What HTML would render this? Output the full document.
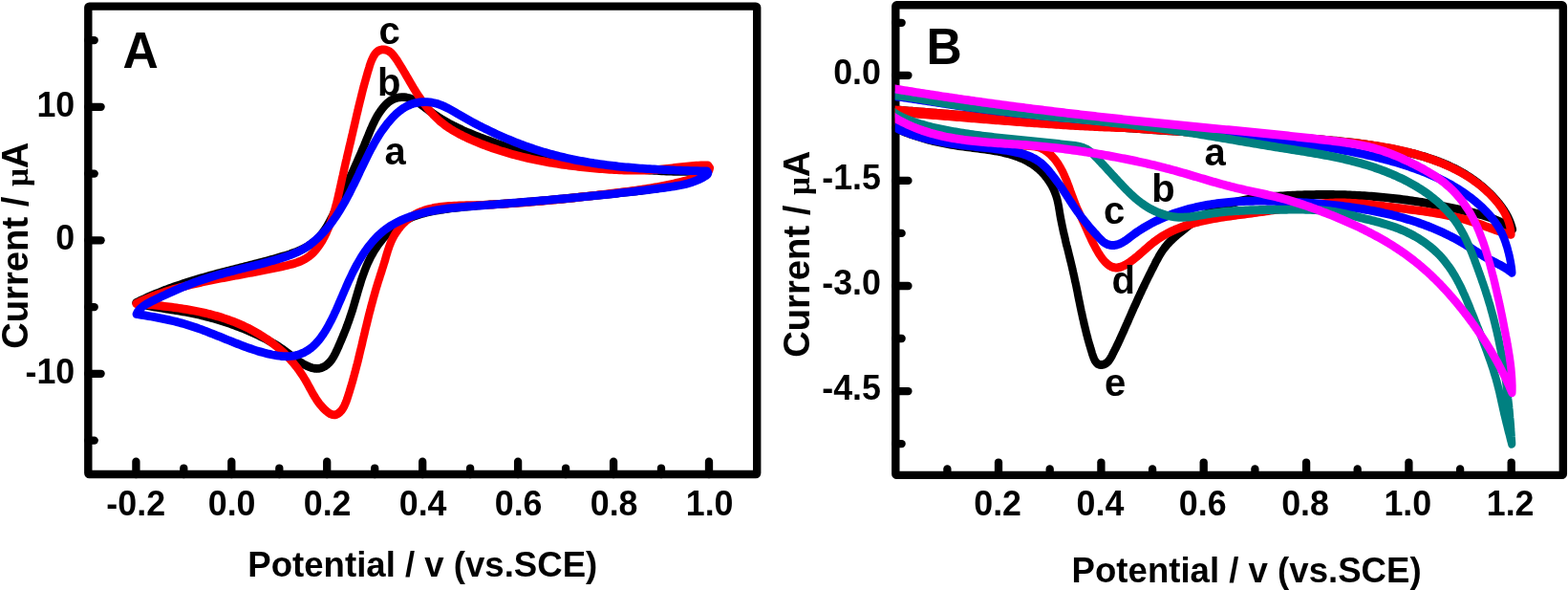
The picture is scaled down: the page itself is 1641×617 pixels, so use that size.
<!DOCTYPE html>
<html lang="en">
<head>
<meta charset="utf-8">
<title>Cyclic voltammograms</title>
<style>
html,body{margin:0;padding:0;background:#fff;}
body{width:1641px;height:617px;overflow:hidden;}
svg{display:block;}
text{font-family:"Liberation Sans", Arial, Helvetica, sans-serif;font-weight:bold;fill:#000;}
.tl{font-size:35.8px;}
.al{font-size:36.6px;}
.pl{font-size:51.6px;}
.cl{font-size:40px;}
.mu{font-family:"Liberation Serif","DejaVu Serif",serif;font-weight:bold;font-size:33.3px;}
</style>
</head>
<body>
<svg width="1641" height="617" viewBox="0 0 1641 617">
<defs><clipPath id="cb"><rect x="936.7" y="0" width="710" height="600"/></clipPath></defs>
<rect x="0" y="0" width="1641" height="617" fill="#fff"/>

<g fill="none" stroke="#000" stroke-width="8.4" stroke-linejoin="round">
<rect x="92.3" y="6.65" width="699.9" height="489.4" rx="1.2"/>
<rect x="937.3" y="5.25" width="698.55" height="491.65" rx="1.2"/>
</g>
<g stroke="#000" stroke-width="8.3" stroke-linecap="round">
<line x1="92.3" y1="460.6" x2="98.75" y2="460.6"/>
<line x1="92.3" y1="390.8" x2="105.60" y2="390.8"/>
<line x1="92.3" y1="321.1" x2="98.75" y2="321.1"/>
<line x1="92.3" y1="251.3" x2="105.60" y2="251.3"/>
<line x1="92.3" y1="181.6" x2="98.75" y2="181.6"/>
<line x1="92.3" y1="111.8" x2="105.60" y2="111.8"/>
<line x1="92.3" y1="42.1" x2="98.75" y2="42.1"/>
<line x1="142.4" y1="496.05" x2="142.4" y2="482.75"/>
<line x1="192.3" y1="496.05" x2="192.3" y2="489.55"/>
<line x1="242.3" y1="496.05" x2="242.3" y2="482.75"/>
<line x1="292.3" y1="496.05" x2="292.3" y2="489.55"/>
<line x1="342.2" y1="496.05" x2="342.2" y2="482.75"/>
<line x1="392.2" y1="496.05" x2="392.2" y2="489.55"/>
<line x1="442.2" y1="496.05" x2="442.2" y2="482.75"/>
<line x1="492.1" y1="496.05" x2="492.1" y2="489.55"/>
<line x1="542.1" y1="496.05" x2="542.1" y2="482.75"/>
<line x1="592.1" y1="496.05" x2="592.1" y2="489.55"/>
<line x1="642.1" y1="496.05" x2="642.1" y2="482.75"/>
<line x1="692.0" y1="496.05" x2="692.0" y2="489.55"/>
<line x1="742.0" y1="496.05" x2="742.0" y2="482.75"/>
<line x1="937.3" y1="23.8" x2="943.65" y2="23.8"/>
<line x1="937.3" y1="78.8" x2="950.45" y2="78.8"/>
<line x1="937.3" y1="133.8" x2="943.65" y2="133.8"/>
<line x1="937.3" y1="188.9" x2="950.45" y2="188.9"/>
<line x1="937.3" y1="243.9" x2="943.65" y2="243.9"/>
<line x1="937.3" y1="299.0" x2="950.45" y2="299.0"/>
<line x1="937.3" y1="354.0" x2="943.65" y2="354.0"/>
<line x1="937.3" y1="409.1" x2="950.45" y2="409.1"/>
<line x1="937.3" y1="464.1" x2="943.65" y2="464.1"/>
<line x1="991.4" y1="496.9" x2="991.4" y2="490.45"/>
<line x1="1045.0" y1="496.9" x2="1045.0" y2="483.55"/>
<line x1="1098.7" y1="496.9" x2="1098.7" y2="490.45"/>
<line x1="1152.4" y1="496.9" x2="1152.4" y2="483.55"/>
<line x1="1206.1" y1="496.9" x2="1206.1" y2="490.45"/>
<line x1="1259.7" y1="496.9" x2="1259.7" y2="483.55"/>
<line x1="1313.4" y1="496.9" x2="1313.4" y2="490.45"/>
<line x1="1367.1" y1="496.9" x2="1367.1" y2="483.55"/>
<line x1="1420.7" y1="496.9" x2="1420.7" y2="490.45"/>
<line x1="1474.4" y1="496.9" x2="1474.4" y2="483.55"/>
<line x1="1528.1" y1="496.9" x2="1528.1" y2="490.45"/>
<line x1="1581.7" y1="496.9" x2="1581.7" y2="483.55"/>
</g>
<g fill="none" stroke-linecap="round" stroke-linejoin="round">
<polyline transform="scale(1 1.05)" points="142.5,301.43 144.8,300.38 147.0,299.34 149.3,298.33 151.6,297.33 153.9,296.35 156.2,295.38 158.5,294.43 160.8,293.50 163.1,292.58 165.4,291.68 167.8,290.79 170.1,289.91 172.4,289.05 174.8,288.21 177.1,287.38 179.5,286.56 181.9,285.75 184.2,284.96 186.6,284.18 189.0,283.41 191.4,282.66 193.8,281.91 196.1,281.18 198.5,280.45 200.9,279.74 203.4,279.04 205.8,278.35 208.2,277.66 210.6,276.99 213.0,276.32 215.4,275.67 217.9,275.02 220.3,274.38 222.7,273.75 225.2,273.12 227.6,272.50 230.0,271.89 232.5,271.28 234.9,270.68 237.4,270.08 239.8,269.49 242.2,268.89 244.7,268.30 247.1,267.72 249.6,267.13 252.0,266.54 254.5,265.95 256.9,265.37 259.4,264.78 261.8,264.19 264.3,263.59 266.7,263.00 269.1,262.39 271.6,261.79 274.0,261.18 276.5,260.56 278.9,259.94 281.3,259.31 283.8,258.67 286.2,258.02 288.6,257.37 291.0,256.70 293.4,256.03 295.9,255.34 298.3,254.64 300.7,253.93 303.1,253.19 305.4,252.42 307.8,251.61 310.1,250.77 312.4,249.87 314.7,248.93 316.9,247.93 319.1,246.87 321.2,245.74 323.3,244.53 325.3,243.25 327.3,241.88 329.2,240.43 331.1,238.87 332.9,237.22 334.6,235.46 336.2,233.59 337.8,231.64 339.3,229.61 340.8,227.52 342.2,225.37 343.5,223.19 344.8,220.99 346.0,218.78 347.2,216.58 348.4,214.38 349.5,212.19 350.6,210.01 351.7,207.83 352.7,205.66 353.8,203.50 354.8,201.34 355.8,199.18 356.8,197.03 357.8,194.88 358.8,192.74 359.8,190.59 360.8,188.45 361.8,186.31 362.9,184.16 363.9,182.02 364.9,179.88 365.9,177.73 366.9,175.58 368.0,173.43 369.0,171.28 370.0,169.12 371.0,166.96 372.0,164.79 373.1,162.62 374.1,160.44 375.1,158.25 376.1,156.06 377.1,153.86 378.1,151.65 379.1,149.43 380.1,147.20 381.1,144.96 382.1,142.71 383.0,140.45 384.0,138.18 385.0,135.90 386.0,133.62 386.9,131.34 387.9,129.07 389.0,126.82 390.0,124.58 391.1,122.36 392.2,120.18 393.4,118.03 394.6,115.93 395.9,113.87 397.3,111.86 398.7,109.91 400.2,108.02 401.8,106.21 403.5,104.47 405.2,102.83 407.1,101.33 409.1,100.00 411.2,98.89 413.4,98.01 415.7,97.38 418.1,96.97 420.5,96.80 422.9,96.85 425.3,97.12 427.7,97.62 430.0,98.34 432.3,99.25 434.5,100.33 436.7,101.55 438.8,102.89 441.0,104.32 443.1,105.81 445.1,107.33 447.2,108.86 449.3,110.37 451.4,111.83 453.6,113.26 455.7,114.65 457.8,116.00 460.0,117.32 462.1,118.59 464.3,119.84 466.5,121.05 468.7,122.23 470.9,123.38 473.1,124.50 475.3,125.59 477.6,126.66 479.8,127.70 482.1,128.72 484.3,129.71 486.6,130.68 488.9,131.63 491.2,132.56 493.5,133.48 495.8,134.37 498.1,135.25 500.4,136.12 502.7,136.97 505.0,137.82 507.4,138.65 509.7,139.47 512.1,140.28 514.4,141.09 516.8,141.89 519.1,142.68 521.5,143.47 523.9,144.26 526.3,145.03 528.6,145.80 531.0,146.56 533.4,147.31 535.8,148.05 538.2,148.78 540.6,149.50 543.0,150.20 545.5,150.89 547.9,151.57 550.3,152.23 552.7,152.87 555.2,153.50 557.6,154.11 560.0,154.70 562.5,155.27 564.9,155.81 567.4,156.34 569.8,156.85 572.3,157.33 574.7,157.80 577.2,158.25 579.6,158.68 582.1,159.09 584.6,159.49 587.1,159.88 589.5,160.25 592.0,160.60 594.5,160.95 597.0,161.28 599.5,161.61 602.0,161.92 604.4,162.23 606.9,162.53 609.4,162.82 611.9,163.11 614.4,163.39 616.9,163.67 619.4,163.95 621.9,164.22 624.4,164.49 626.9,164.76 629.5,165.03 632.0,165.30 634.5,165.56 637.0,165.82 639.5,166.08 642.0,166.33 644.5,166.58 647.0,166.83 649.6,167.07 652.1,167.31 654.6,167.54 657.1,167.77 659.6,167.99 662.2,168.20 664.7,168.41 667.2,168.61 669.7,168.81 672.2,169.00 674.8,169.18 677.3,169.36 679.8,169.52 682.3,169.68 684.8,169.83 687.4,169.97 689.9,170.11 692.4,170.23 694.9,170.34 697.4,170.45 699.9,170.54 702.5,170.63 705.0,170.70 707.5,170.77 710.0,170.82 712.5,170.86 715.0,170.89 717.5,170.90 720.0,170.91 722.5,170.90 725.0,170.88 727.5,170.85 730.0,170.80 732.5,170.74 735.0,170.67 737.5,170.58 740.0,170.48 740.0,170.48 740.8,172.35 739.3,173.90 737.4,175.17 735.2,176.23 732.8,177.13 730.3,177.95 727.9,178.72 725.4,179.46 722.9,180.17 720.4,180.85 718.0,181.50 715.5,182.12 713.0,182.72 710.5,183.29 708.1,183.84 705.6,184.36 703.1,184.86 700.7,185.34 698.2,185.80 695.7,186.24 693.2,186.66 690.8,187.06 688.3,187.45 685.8,187.82 683.4,188.17 680.9,188.51 678.4,188.84 676.0,189.16 673.5,189.46 671.0,189.76 668.5,190.04 666.1,190.32 663.6,190.59 661.1,190.85 658.6,191.11 656.2,191.37 653.7,191.62 651.2,191.87 648.7,192.12 646.2,192.37 643.7,192.62 641.3,192.87 638.8,193.12 636.3,193.37 633.8,193.62 631.3,193.88 628.8,194.13 626.3,194.39 623.8,194.64 621.3,194.89 618.8,195.15 616.3,195.40 613.8,195.65 611.3,195.90 608.8,196.15 606.3,196.40 603.8,196.65 601.2,196.90 598.7,197.14 596.2,197.39 593.7,197.63 591.2,197.87 588.7,198.11 586.2,198.34 583.7,198.57 581.1,198.80 578.6,199.03 576.1,199.26 573.6,199.48 571.1,199.70 568.6,199.91 566.0,200.12 563.5,200.33 561.0,200.53 558.5,200.73 556.0,200.93 553.5,201.12 550.9,201.30 548.4,201.48 545.9,201.66 543.4,201.83 540.9,202.00 538.4,202.17 535.8,202.33 533.3,202.49 530.8,202.65 528.3,202.80 525.8,202.96 523.3,203.12 520.8,203.28 518.2,203.44 515.7,203.60 513.2,203.76 510.7,203.93 508.2,204.10 505.7,204.28 503.2,204.46 500.7,204.65 498.2,204.85 495.7,205.05 493.2,205.26 490.7,205.47 488.2,205.70 485.7,205.93 483.2,206.18 480.7,206.44 478.2,206.70 475.7,206.98 473.2,207.27 470.8,207.58 468.3,207.90 465.8,208.23 463.3,208.58 460.8,208.94 458.4,209.33 455.9,209.74 453.4,210.18 451.0,210.65 448.6,211.16 446.1,211.70 443.7,212.28 441.4,212.91 439.0,213.58 436.6,214.31 434.3,215.09 432.0,215.92 429.7,216.82 427.5,217.78 425.3,218.80 423.1,219.90 420.9,221.07 418.8,222.31 416.7,223.64 414.7,225.04 412.7,226.52 410.7,228.07 408.8,229.69 406.9,231.37 405.1,233.11 403.3,234.91 401.6,236.75 399.9,238.64 398.3,240.58 396.7,242.55 395.2,244.55 393.8,246.59 392.4,248.65 391.0,250.73 389.8,252.83 388.6,254.95 387.4,257.09 386.3,259.24 385.2,261.41 384.2,263.59 383.2,265.79 382.3,267.99 381.4,270.21 380.6,272.44 379.7,274.68 378.9,276.93 378.1,279.19 377.4,281.45 376.7,283.72 375.9,285.99 375.2,288.27 374.5,290.55 373.8,292.83 373.1,295.11 372.4,297.39 371.7,299.67 371.0,301.95 370.3,304.23 369.6,306.50 368.9,308.76 368.1,311.03 367.3,313.28 366.5,315.53 365.7,317.78 364.9,320.03 364.0,322.27 363.2,324.51 362.3,326.75 361.4,328.99 360.4,331.23 359.5,333.47 358.5,335.71 357.5,337.96 356.5,340.21 355.5,342.46 354.5,344.72 353.4,346.98 352.3,349.24 351.2,351.48 350.0,353.66 348.8,355.77 347.4,357.77 345.9,359.66 344.3,361.40 342.6,362.96 340.7,364.33 338.6,365.48 336.4,366.36 334.0,366.93 331.6,367.12 329.1,366.92 326.6,366.40 324.2,365.62 321.8,364.66 319.4,363.58 317.2,362.40 315.0,361.14 312.8,359.81 310.7,358.43 308.7,357.00 306.7,355.55 304.6,354.09 302.6,352.62 300.6,351.17 298.6,349.75 296.6,348.36 294.5,347.01 292.4,345.69 290.3,344.40 288.2,343.15 286.1,341.92 283.9,340.72 281.7,339.55 279.6,338.40 277.4,337.29 275.2,336.19 272.9,335.13 270.7,334.08 268.4,333.06 266.2,332.06 263.9,331.08 261.6,330.12 259.3,329.18 257.0,328.26 254.7,327.35 252.3,326.47 250.0,325.60 247.6,324.74 245.3,323.91 242.9,323.10 240.5,322.30 238.1,321.52 235.7,320.76 233.3,320.02 230.9,319.29 228.5,318.59 226.0,317.90 223.6,317.23 221.2,316.59 218.7,315.96 216.3,315.35 213.8,314.75 211.4,314.18 208.9,313.63 206.4,313.09 204.0,312.58 201.5,312.09 199.0,311.61 196.5,311.16 194.1,310.72 191.6,310.30 189.1,309.89 186.6,309.50 184.2,309.12 181.7,308.74 179.2,308.37 176.7,308.01 174.3,307.64 171.8,307.27 169.3,306.90 166.9,306.52 164.4,306.14 162.0,305.74 159.5,305.33 157.1,304.91 154.6,304.46 152.2,304.00 149.7,303.52 147.3,302.99 144.9,302.32 142.5,301.43" stroke="#000000" stroke-width="8.4"/>
<polyline transform="scale(1 1.05)" points="142.5,302.38 144.8,301.34 147.0,300.32 149.3,299.33 151.6,298.37 153.9,297.43 156.3,296.52 158.6,295.63 160.9,294.76 163.3,293.92 165.6,293.10 168.0,292.31 170.4,291.53 172.8,290.78 175.2,290.04 177.6,289.33 180.0,288.63 182.4,287.95 184.8,287.29 187.2,286.64 189.7,286.01 192.1,285.40 194.5,284.80 197.0,284.22 199.4,283.65 201.9,283.09 204.4,282.54 206.8,282.01 209.3,281.49 211.7,280.97 214.2,280.47 216.7,279.98 219.1,279.49 221.6,279.01 224.1,278.54 226.5,278.08 229.0,277.62 231.5,277.17 233.9,276.72 236.4,276.28 238.9,275.84 241.3,275.40 243.8,274.96 246.2,274.53 248.7,274.10 251.1,273.66 253.6,273.23 256.0,272.80 258.5,272.36 260.9,271.92 263.4,271.48 265.8,271.04 268.3,270.60 270.7,270.15 273.2,269.69 275.6,269.23 278.1,268.77 280.6,268.30 283.1,267.82 285.6,267.34 288.1,266.84 290.6,266.34 293.1,265.83 295.6,265.32 298.2,264.79 300.7,264.23 303.2,263.64 305.8,263.01 308.2,262.32 310.7,261.57 313.0,260.73 315.4,259.81 317.6,258.78 319.7,257.65 321.8,256.39 323.8,255.02 325.7,253.55 327.5,251.97 329.2,250.30 330.8,248.54 332.3,246.70 333.8,244.80 335.2,242.82 336.6,240.79 337.9,238.71 339.1,236.59 340.2,234.43 341.4,232.24 342.4,230.03 343.4,227.80 344.4,225.57 345.3,223.33 346.2,221.07 347.0,218.81 347.8,216.55 348.6,214.27 349.4,211.99 350.1,209.70 350.8,207.40 351.4,205.10 352.1,202.79 352.7,200.48 353.3,198.16 353.9,195.84 354.4,193.52 355.0,191.18 355.5,188.85 356.1,186.51 356.6,184.17 357.2,181.83 357.7,179.48 358.2,177.14 358.8,174.79 359.3,172.44 359.9,170.09 360.4,167.73 361.0,165.38 361.5,163.03 362.1,160.68 362.7,158.33 363.2,155.98 363.8,153.63 364.4,151.29 365.0,148.94 365.5,146.60 366.1,144.26 366.7,141.93 367.3,139.60 367.8,137.27 368.4,134.95 369.0,132.63 369.5,130.31 370.1,128.00 370.7,125.70 371.2,123.40 371.8,121.10 372.3,118.81 372.9,116.51 373.4,114.22 374.0,111.93 374.6,109.64 375.1,107.34 375.7,105.05 376.3,102.75 376.9,100.45 377.5,98.14 378.1,95.83 378.7,93.51 379.3,91.19 379.9,88.86 380.6,86.52 381.2,84.18 381.9,81.82 382.6,79.46 383.3,77.09 384.0,74.70 384.7,72.30 385.5,69.89 386.3,67.47 387.0,65.05 387.9,62.65 388.8,60.32 389.9,58.08 391.0,55.95 392.3,53.99 393.8,52.29 395.5,50.93 397.3,49.98 399.4,49.45 401.5,49.33 403.6,49.62 405.7,50.32 407.8,51.42 409.7,52.90 411.4,54.70 413.1,56.71 414.7,58.86 416.2,61.05 417.6,63.21 419.0,65.35 420.4,67.47 421.7,69.57 423.0,71.66 424.3,73.72 425.5,75.77 426.8,77.81 428.0,79.84 429.2,81.87 430.5,83.89 431.7,85.90 433.0,87.92 434.3,89.94 435.6,91.95 437.0,93.96 438.4,95.96 439.8,97.95 441.2,99.92 442.7,101.88 444.2,103.81 445.8,105.73 447.3,107.61 449.0,109.47 450.6,111.30 452.3,113.09 454.0,114.84 455.8,116.55 457.6,118.22 459.4,119.84 461.3,121.41 463.3,122.92 465.3,124.38 467.3,125.79 469.4,127.15 471.5,128.46 473.6,129.72 475.8,130.94 478.0,132.12 480.2,133.26 482.5,134.37 484.7,135.45 487.0,136.49 489.3,137.51 491.6,138.51 493.9,139.48 496.2,140.43 498.6,141.36 500.9,142.27 503.2,143.17 505.6,144.04 507.9,144.89 510.3,145.73 512.6,146.54 515.0,147.34 517.4,148.12 519.8,148.88 522.1,149.62 524.5,150.35 526.9,151.05 529.3,151.75 531.7,152.42 534.1,153.08 536.5,153.72 538.9,154.34 541.4,154.95 543.8,155.55 546.2,156.12 548.6,156.69 551.1,157.23 553.5,157.77 555.9,158.29 558.4,158.79 560.8,159.28 563.3,159.76 565.7,160.22 568.2,160.67 570.7,161.11 573.1,161.53 575.6,161.94 578.1,162.34 580.6,162.73 583.0,163.11 585.5,163.47 588.0,163.82 590.5,164.16 593.0,164.49 595.5,164.81 598.0,165.12 600.5,165.42 602.9,165.71 605.4,165.99 608.0,166.26 610.5,166.52 613.0,166.78 615.5,167.02 618.0,167.25 620.5,167.48 623.0,167.70 625.5,167.91 628.0,168.11 630.5,168.30 633.1,168.48 635.6,168.66 638.1,168.82 640.6,168.96 643.1,169.10 645.6,169.22 648.2,169.33 650.7,169.43 653.2,169.51 655.7,169.58 658.3,169.63 660.8,169.67 663.3,169.69 665.8,169.69 668.3,169.68 670.9,169.65 673.4,169.60 675.9,169.53 678.4,169.44 680.9,169.33 683.5,169.21 686.0,169.06 688.5,168.89 691.0,168.69 693.5,168.48 696.0,168.24 698.6,167.98 701.1,167.71 703.6,167.43 706.1,167.14 708.6,166.85 711.1,166.56 713.6,166.27 716.1,166.00 718.6,165.74 721.1,165.50 723.6,165.28 726.1,165.09 728.6,164.94 731.1,164.81 733.6,164.73 736.0,164.69 738.5,164.70 741.0,164.76 741.0,164.76 742.9,167.27 742.3,169.36 741.1,171.10 739.4,172.54 737.4,173.73 735.1,174.73 732.7,175.60 730.3,176.38 727.8,177.14 725.3,177.86 722.8,178.57 720.3,179.24 717.8,179.90 715.3,180.53 712.8,181.14 710.3,181.73 707.9,182.30 705.4,182.85 702.9,183.38 700.4,183.89 698.0,184.39 695.5,184.87 693.0,185.33 690.5,185.77 688.1,186.21 685.6,186.62 683.1,187.03 680.6,187.42 678.2,187.80 675.7,188.17 673.2,188.53 670.8,188.88 668.3,189.22 665.8,189.55 663.3,189.87 660.9,190.19 658.4,190.50 655.9,190.81 653.4,191.11 651.0,191.41 648.5,191.70 646.0,191.99 643.5,192.28 641.0,192.57 638.5,192.86 636.0,193.14 633.6,193.43 631.1,193.71 628.6,193.99 626.1,194.27 623.6,194.55 621.1,194.82 618.6,195.09 616.1,195.36 613.6,195.63 611.1,195.90 608.6,196.16 606.1,196.42 603.6,196.68 601.1,196.94 598.6,197.19 596.1,197.44 593.6,197.69 591.1,197.94 588.6,198.18 586.0,198.42 583.5,198.66 581.0,198.89 578.5,199.13 576.0,199.35 573.5,199.58 571.0,199.80 568.5,200.02 566.0,200.24 563.4,200.45 560.9,200.66 558.4,200.87 555.9,201.07 553.4,201.27 550.9,201.46 548.3,201.65 545.8,201.84 543.3,202.03 540.8,202.21 538.3,202.38 535.8,202.55 533.2,202.72 530.7,202.88 528.2,203.03 525.7,203.18 523.2,203.32 520.7,203.45 518.2,203.58 515.6,203.70 513.1,203.82 510.6,203.92 508.1,204.02 505.6,204.11 503.1,204.19 500.5,204.26 498.0,204.32 495.5,204.38 493.0,204.42 490.5,204.47 488.0,204.52 485.5,204.57 483.0,204.64 480.5,204.71 478.0,204.80 475.4,204.91 472.9,205.04 470.4,205.19 467.9,205.38 465.4,205.60 462.9,205.85 460.4,206.15 457.9,206.49 455.5,206.88 453.0,207.34 450.6,207.85 448.2,208.43 445.8,209.08 443.4,209.81 441.1,210.62 438.8,211.52 436.5,212.51 434.3,213.60 432.2,214.79 430.1,216.09 428.1,217.50 426.1,219.03 424.2,220.65 422.3,222.37 420.5,224.18 418.8,226.06 417.2,228.01 415.7,230.02 414.2,232.09 412.8,234.19 411.6,236.33 410.4,238.50 409.3,240.68 408.4,242.87 407.5,245.08 406.7,247.29 405.9,249.50 405.2,251.73 404.5,253.96 403.8,256.20 403.2,258.45 402.5,260.71 401.7,262.97 401.0,265.23 400.2,267.51 399.5,269.78 398.7,272.07 397.9,274.36 397.2,276.65 396.4,278.95 395.6,281.25 394.9,283.55 394.1,285.86 393.4,288.18 392.7,290.50 392.0,292.81 391.3,295.14 390.6,297.46 390.0,299.79 389.3,302.12 388.6,304.45 388.0,306.78 387.4,309.11 386.7,311.45 386.1,313.78 385.5,316.12 384.9,318.45 384.3,320.79 383.7,323.12 383.1,325.46 382.5,327.79 381.9,330.12 381.4,332.45 380.8,334.78 380.2,337.11 379.6,339.44 379.1,341.77 378.5,344.09 377.9,346.41 377.3,348.73 376.7,351.05 376.1,353.36 375.6,355.68 375.0,357.98 374.4,360.29 373.8,362.59 373.1,364.89 372.5,367.18 371.9,369.48 371.2,371.76 370.6,374.04 369.9,376.32 369.3,378.60 368.6,380.88 367.9,383.17 367.2,385.47 366.4,387.79 365.7,390.13 364.9,392.49 364.1,394.87 363.3,397.29 362.4,399.69 361.4,402.04 360.3,404.31 359.1,406.46 357.7,408.43 356.0,410.21 354.2,411.68 352.2,412.73 350.1,413.23 348.0,413.05 345.8,412.24 343.6,410.98 341.6,409.42 339.6,407.73 337.8,405.96 336.1,404.12 334.4,402.22 332.9,400.25 331.4,398.24 330.1,396.19 328.7,394.10 327.4,391.99 326.2,389.86 325.0,387.71 323.7,385.57 322.5,383.43 321.3,381.30 320.0,379.19 318.7,377.11 317.4,375.06 316.0,373.04 314.6,371.05 313.2,369.10 311.7,367.17 310.2,365.28 308.6,363.42 307.0,361.59 305.4,359.79 303.8,358.02 302.1,356.28 300.3,354.58 298.6,352.90 296.8,351.26 295.0,349.65 293.1,348.07 291.3,346.51 289.4,345.00 287.4,343.51 285.5,342.05 283.5,340.62 281.5,339.23 279.5,337.86 277.4,336.53 275.3,335.23 273.2,333.95 271.1,332.71 268.9,331.50 266.7,330.32 264.5,329.18 262.3,328.06 260.1,326.97 257.8,325.91 255.6,324.89 253.3,323.89 251.0,322.93 248.7,322.00 246.3,321.09 244.0,320.22 241.6,319.38 239.2,318.56 236.8,317.77 234.4,317.01 232.0,316.28 229.6,315.57 227.1,314.88 224.7,314.22 222.2,313.59 219.8,312.98 217.3,312.39 214.8,311.83 212.3,311.28 209.8,310.76 207.3,310.26 204.8,309.77 202.3,309.31 199.8,308.86 197.3,308.44 194.7,308.03 192.2,307.64 189.7,307.26 187.2,306.90 184.7,306.55 182.1,306.22 179.6,305.90 177.1,305.60 174.6,305.31 172.1,305.03 169.6,304.76 167.1,304.50 164.6,304.25 162.1,304.02 159.6,303.79 157.1,303.57 154.7,303.35 152.2,303.15 149.8,302.95 147.3,302.75 144.9,302.56 142.5,302.38" stroke="#ff0000" stroke-width="8.4"/>
<polyline transform="scale(1 1.05)" points="142.8,312.86 143.8,310.91 145.1,309.14 146.7,307.50 148.5,306.00 150.4,304.61 152.5,303.31 154.7,302.09 157.0,300.93 159.3,299.82 161.6,298.73 164.0,297.65 166.3,296.60 168.6,295.55 170.9,294.53 173.2,293.51 175.4,292.51 177.7,291.53 180.0,290.56 182.2,289.61 184.5,288.67 186.8,287.75 189.0,286.84 191.3,285.94 193.6,285.06 195.8,284.20 198.1,283.35 200.4,282.51 202.7,281.69 205.0,280.88 207.3,280.09 209.6,279.31 212.0,278.55 214.3,277.80 216.7,277.07 219.0,276.35 221.4,275.65 223.8,274.96 226.3,274.29 228.7,273.62 231.1,272.97 233.6,272.33 236.1,271.70 238.6,271.07 241.1,270.46 243.6,269.85 246.1,269.24 248.6,268.64 251.1,268.05 253.6,267.45 256.1,266.86 258.6,266.26 261.2,265.67 263.7,265.07 266.2,264.47 268.7,263.87 271.2,263.26 273.7,262.65 276.2,262.03 278.6,261.40 281.1,260.76 283.5,260.11 286.0,259.45 288.4,258.78 290.8,258.10 293.2,257.40 295.5,256.68 297.9,255.95 300.2,255.20 302.5,254.42 304.8,253.60 307.1,252.75 309.3,251.85 311.5,250.90 313.7,249.89 315.8,248.82 317.9,247.68 320.0,246.46 322.1,245.17 324.1,243.80 326.1,242.37 328.0,240.88 329.9,239.34 331.8,237.75 333.6,236.12 335.4,234.45 337.1,232.75 338.8,231.01 340.5,229.24 342.1,227.44 343.7,225.61 345.3,223.75 346.8,221.86 348.3,219.94 349.7,218.00 351.2,216.04 352.6,214.06 353.9,212.05 355.3,210.02 356.6,207.98 357.9,205.91 359.2,203.83 360.4,201.74 361.7,199.63 362.9,197.51 364.1,195.38 365.3,193.23 366.4,191.08 367.6,188.92 368.7,186.76 369.8,184.59 371.0,182.41 372.1,180.23 373.2,178.05 374.3,175.87 375.4,173.69 376.4,171.52 377.5,169.35 378.6,167.18 379.7,165.01 380.8,162.86 381.9,160.71 383.0,158.57 384.1,156.44 385.2,154.32 386.3,152.21 387.4,150.10 388.6,148.01 389.8,145.93 391.0,143.87 392.2,141.81 393.4,139.77 394.7,137.74 396.0,135.73 397.3,133.73 398.7,131.74 400.1,129.77 401.6,127.82 403.1,125.89 404.6,123.97 406.2,122.07 407.9,120.20 409.5,118.37 411.3,116.58 413.1,114.85 414.9,113.18 416.8,111.59 418.8,110.09 420.8,108.68 422.9,107.37 425.0,106.18 427.3,105.11 429.5,104.17 431.9,103.38 434.3,102.73 436.8,102.23 439.3,101.87 441.8,101.65 444.3,101.57 446.9,101.62 449.4,101.81 451.9,102.14 454.4,102.59 456.8,103.17 459.2,103.87 461.5,104.68 463.8,105.59 466.1,106.58 468.3,107.64 470.5,108.75 472.7,109.91 474.9,111.10 477.1,112.30 479.2,113.52 481.4,114.72 483.6,115.92 485.8,117.10 488.0,118.27 490.2,119.44 492.4,120.59 494.6,121.73 496.8,122.86 499.1,123.97 501.3,125.08 503.5,126.17 505.8,127.26 508.0,128.32 510.3,129.38 512.6,130.43 514.8,131.46 517.1,132.48 519.4,133.49 521.7,134.48 524.0,135.46 526.3,136.42 528.6,137.38 530.9,138.32 533.2,139.24 535.5,140.15 537.8,141.05 540.2,141.93 542.5,142.80 544.8,143.65 547.2,144.49 549.5,145.31 551.9,146.11 554.2,146.91 556.6,147.68 559.0,148.44 561.4,149.18 563.8,149.91 566.1,150.62 568.5,151.32 570.9,151.99 573.3,152.66 575.7,153.30 578.2,153.93 580.6,154.54 583.0,155.13 585.4,155.71 587.9,156.28 590.3,156.82 592.7,157.36 595.2,157.87 597.6,158.38 600.1,158.87 602.5,159.34 605.0,159.80 607.4,160.25 609.9,160.68 612.4,161.10 614.9,161.51 617.3,161.91 619.8,162.29 622.3,162.66 624.8,163.02 627.3,163.36 629.7,163.69 632.2,164.02 634.7,164.33 637.2,164.63 639.7,164.92 642.2,165.20 644.7,165.47 647.2,165.73 649.7,165.98 652.2,166.22 654.7,166.45 657.3,166.67 659.8,166.88 662.3,167.09 664.8,167.29 667.3,167.47 669.8,167.65 672.3,167.83 674.8,167.99 677.4,168.15 679.9,168.30 682.4,168.45 684.9,168.58 687.4,168.72 689.9,168.84 692.4,168.96 695.0,169.08 697.5,169.19 700.0,169.29 702.5,169.39 705.0,169.49 707.5,169.58 710.0,169.67 712.5,169.75 715.0,169.83 717.5,169.90 720.0,169.98 722.5,170.05 725.0,170.11 727.5,170.18 730.0,170.24 732.5,170.30 735.0,170.36 737.5,170.42 740.0,170.48 740.0,170.48 741.1,172.11 740.5,173.60 738.8,174.97 736.6,176.23 734.4,177.39 732.1,178.46 729.8,179.43 727.4,180.33 725.1,181.15 722.7,181.90 720.3,182.58 717.9,183.20 715.4,183.76 713.0,184.28 710.5,184.75 708.0,185.18 705.5,185.58 703.0,185.95 700.5,186.29 698.0,186.62 695.5,186.94 693.0,187.25 690.5,187.56 687.9,187.86 685.4,188.17 682.9,188.46 680.4,188.76 677.9,189.05 675.4,189.35 672.9,189.63 670.4,189.92 667.9,190.20 665.4,190.48 662.8,190.76 660.3,191.03 657.8,191.31 655.3,191.58 652.8,191.85 650.3,192.11 647.8,192.37 645.3,192.64 642.8,192.89 640.3,193.15 637.8,193.40 635.3,193.66 632.8,193.91 630.3,194.15 627.8,194.40 625.3,194.64 622.8,194.89 620.3,195.13 617.7,195.36 615.2,195.60 612.7,195.83 610.2,196.06 607.7,196.29 605.2,196.52 602.7,196.75 600.2,196.98 597.7,197.20 595.2,197.42 592.7,197.64 590.2,197.86 587.7,198.08 585.2,198.29 582.7,198.50 580.2,198.72 577.7,198.93 575.2,199.14 572.7,199.35 570.2,199.55 567.7,199.76 565.2,199.96 562.7,200.17 560.2,200.37 557.7,200.57 555.2,200.77 552.7,200.97 550.2,201.17 547.7,201.36 545.2,201.56 542.7,201.75 540.2,201.95 537.6,202.14 535.1,202.33 532.6,202.52 530.1,202.71 527.6,202.90 525.1,203.09 522.6,203.28 520.1,203.47 517.6,203.65 515.1,203.84 512.6,204.02 510.1,204.21 507.6,204.39 505.1,204.58 502.5,204.76 500.0,204.95 497.5,205.13 495.0,205.31 492.5,205.50 490.0,205.69 487.5,205.88 485.0,206.08 482.5,206.29 479.9,206.51 477.4,206.74 474.9,206.98 472.4,207.24 469.9,207.52 467.4,207.81 464.9,208.12 462.4,208.46 460.0,208.81 457.5,209.19 455.0,209.60 452.5,210.03 450.0,210.50 447.6,210.99 445.1,211.52 442.6,212.08 440.2,212.67 437.7,213.30 435.3,213.97 432.9,214.68 430.4,215.44 428.0,216.23 425.7,217.07 423.3,217.96 421.0,218.89 418.7,219.88 416.4,220.92 414.2,222.00 412.0,223.15 409.8,224.35 407.7,225.61 405.7,226.92 403.7,228.30 401.7,229.74 399.8,231.23 397.9,232.79 396.1,234.39 394.3,236.05 392.6,237.75 390.9,239.51 389.3,241.30 387.7,243.14 386.1,245.02 384.6,246.93 383.1,248.88 381.6,250.87 380.2,252.88 378.8,254.92 377.5,256.99 376.2,259.08 374.9,261.19 373.6,263.32 372.4,265.47 371.2,267.63 370.0,269.81 368.9,271.99 367.8,274.18 366.7,276.38 365.6,278.58 364.5,280.78 363.5,282.97 362.5,285.17 361.5,287.35 360.5,289.53 359.5,291.71 358.5,293.88 357.6,296.04 356.6,298.21 355.6,300.36 354.6,302.52 353.7,304.67 352.7,306.82 351.7,308.97 350.6,311.12 349.6,313.26 348.5,315.41 347.4,317.55 346.3,319.70 345.1,321.85 343.9,324.00 342.6,326.14 341.3,328.27 340.0,330.38 338.6,332.46 337.1,334.49 335.6,336.48 334.1,338.41 332.4,340.27 330.7,342.05 329.0,343.75 327.1,345.35 325.2,346.84 323.2,348.22 321.1,349.49 319.0,350.63 316.8,351.65 314.5,352.54 312.2,353.30 309.9,353.91 307.5,354.39 305.1,354.72 302.6,354.91 300.1,354.97 297.6,354.92 295.1,354.76 292.6,354.51 290.0,354.18 287.5,353.77 285.0,353.31 282.5,352.79 279.9,352.24 277.5,351.65 275.0,351.02 272.5,350.35 270.1,349.66 267.6,348.94 265.2,348.18 262.8,347.41 260.3,346.61 257.9,345.79 255.5,344.96 253.2,344.11 250.8,343.24 248.4,342.37 246.0,341.48 243.7,340.59 241.3,339.70 239.0,338.80 236.6,337.90 234.3,337.00 232.0,336.10 229.6,335.20 227.3,334.31 225.0,333.42 222.6,332.54 220.3,331.67 218.0,330.80 215.6,329.95 213.3,329.12 211.0,328.30 208.6,327.49 206.3,326.70 204.0,325.93 201.6,325.19 199.3,324.46 196.9,323.76 194.6,323.08 192.2,322.43 189.8,321.80 187.4,321.19 185.1,320.60 182.7,320.03 180.3,319.48 177.8,318.95 175.4,318.44 173.0,317.94 170.5,317.46 168.1,316.99 165.6,316.53 163.1,316.09 160.7,315.66 158.1,315.23 155.6,314.82 153.1,314.41 150.5,314.02 148.0,313.63 145.4,313.24 142.8,312.86" stroke="#0000ff" stroke-width="8.4"/>
<polyline transform="scale(1 1.09)" points="934.0,105.27 936.5,105.46 939.0,105.64 941.5,105.82 944.0,106.00 946.5,106.19 949.0,106.37 951.5,106.55 954.0,106.74 956.5,106.92 959.0,107.10 961.5,107.28 964.0,107.47 966.6,107.65 969.1,107.83 971.6,108.01 974.1,108.20 976.6,108.38 979.1,108.56 981.6,108.74 984.1,108.93 986.6,109.11 989.1,109.29 991.6,109.47 994.1,109.66 996.6,109.84 999.1,110.02 1001.6,110.20 1004.1,110.38 1006.7,110.57 1009.2,110.75 1011.7,110.93 1014.2,111.11 1016.7,111.29 1019.2,111.47 1021.7,111.65 1024.2,111.83 1026.7,112.02 1029.2,112.20 1031.7,112.38 1034.2,112.56 1036.7,112.74 1039.3,112.92 1041.8,113.10 1044.3,113.28 1046.8,113.46 1049.3,113.64 1051.8,113.82 1054.3,114.00 1056.8,114.18 1059.3,114.35 1061.8,114.53 1064.3,114.71 1066.9,114.89 1069.4,115.07 1071.9,115.25 1074.4,115.43 1076.9,115.60 1079.4,115.78 1081.9,115.96 1084.4,116.14 1086.9,116.31 1089.4,116.49 1092.0,116.67 1094.5,116.84 1097.0,117.02 1099.5,117.19 1102.0,117.37 1104.5,117.55 1107.0,117.72 1109.5,117.90 1112.0,118.07 1114.5,118.25 1117.1,118.42 1119.6,118.59 1122.1,118.77 1124.6,118.94 1127.1,119.12 1129.6,119.29 1132.1,119.46 1134.6,119.63 1137.1,119.81 1139.6,119.98 1142.2,120.15 1144.7,120.32 1147.2,120.49 1149.7,120.66 1152.2,120.83 1154.7,121.00 1157.2,121.17 1159.7,121.34 1162.2,121.51 1164.7,121.68 1167.3,121.84 1169.8,122.01 1172.3,122.18 1174.8,122.34 1177.3,122.51 1179.8,122.67 1182.3,122.84 1184.8,123.00 1187.3,123.16 1189.8,123.32 1192.4,123.48 1194.9,123.64 1197.4,123.80 1199.9,123.96 1202.4,124.12 1204.9,124.28 1207.4,124.44 1209.9,124.59 1212.4,124.75 1214.9,124.90 1217.5,125.06 1220.0,125.21 1222.5,125.36 1225.0,125.51 1227.5,125.66 1230.0,125.81 1232.5,125.96 1235.0,126.11 1237.5,126.25 1240.0,126.40 1242.5,126.54 1245.1,126.69 1247.6,126.83 1250.1,126.97 1252.6,127.11 1255.1,127.25 1257.6,127.39 1260.1,127.53 1262.6,127.66 1265.1,127.80 1267.6,127.93 1270.1,128.06 1272.6,128.20 1275.1,128.33 1277.7,128.46 1280.2,128.58 1282.7,128.71 1285.2,128.84 1287.7,128.96 1290.2,129.08 1292.7,129.20 1295.2,129.32 1297.7,129.44 1300.2,129.56 1302.7,129.68 1305.2,129.79 1307.7,129.91 1310.2,130.02 1312.7,130.13 1315.2,130.24 1317.7,130.36 1320.3,130.47 1322.8,130.58 1325.3,130.70 1327.8,130.81 1330.3,130.93 1332.8,131.04 1335.3,131.16 1337.8,131.28 1340.3,131.40 1342.8,131.52 1345.3,131.65 1347.8,131.78 1350.3,131.91 1352.8,132.04 1355.3,132.18 1357.8,132.32 1360.3,132.46 1362.8,132.61 1365.3,132.76 1367.8,132.92 1370.3,133.08 1372.8,133.24 1375.3,133.41 1377.8,133.58 1380.3,133.76 1382.8,133.95 1385.3,134.14 1387.8,134.34 1390.3,134.54 1392.8,134.75 1395.3,134.96 1397.8,135.18 1400.3,135.41 1402.8,135.65 1405.3,135.89 1407.8,136.14 1410.3,136.40 1412.8,136.67 1415.3,136.94 1417.8,137.23 1420.3,137.52 1422.8,137.82 1425.3,138.13 1427.8,138.45 1430.3,138.78 1432.8,139.11 1435.3,139.46 1437.8,139.82 1440.2,140.19 1442.7,140.57 1445.2,140.96 1447.7,141.36 1450.2,141.77 1452.7,142.19 1455.2,142.63 1457.7,143.07 1460.2,143.53 1462.7,144.00 1465.2,144.49 1467.7,144.99 1470.1,145.50 1472.6,146.02 1475.1,146.57 1477.6,147.13 1480.1,147.70 1482.5,148.30 1485.0,148.91 1487.4,149.54 1489.9,150.20 1492.3,150.87 1494.7,151.57 1497.1,152.28 1499.5,153.02 1501.9,153.79 1504.3,154.58 1506.7,155.39 1509.0,156.23 1511.3,157.10 1513.7,157.99 1516.0,158.92 1518.2,159.87 1520.5,160.85 1522.8,161.86 1525.0,162.90 1527.2,163.98 1529.4,165.08 1531.6,166.22 1533.7,167.40 1535.8,168.61 1537.9,169.85 1540.0,171.13 1542.1,172.45 1544.1,173.79 1546.1,175.17 1548.1,176.58 1550.0,178.02 1551.9,179.49 1553.8,180.99 1555.7,182.52 1557.5,184.08 1559.3,185.67 1561.0,187.28 1562.8,188.92 1564.5,190.58 1566.1,192.28 1567.7,194.00 1569.3,195.76 1570.8,197.55 1572.3,199.38 1573.7,201.25 1575.0,203.16 1576.3,205.11 1577.5,207.11 1578.6,209.16 1579.7,211.25 1580.6,213.40 1581.5,215.60 1582.3,217.86 1583.0,220.18 1583.0,220.18 1580.8,218.74 1578.7,217.39 1576.5,216.12 1574.2,214.92 1572.0,213.80 1569.8,212.75 1567.5,211.77 1565.2,210.84 1563.0,209.98 1560.7,209.17 1558.4,208.41 1556.0,207.69 1553.7,207.01 1551.4,206.37 1549.0,205.77 1546.6,205.19 1544.3,204.64 1541.9,204.11 1539.5,203.59 1537.1,203.09 1534.7,202.59 1532.3,202.10 1529.8,201.61 1527.4,201.13 1525.0,200.64 1522.5,200.17 1520.1,199.69 1517.6,199.22 1515.1,198.76 1512.7,198.30 1510.2,197.85 1507.7,197.40 1505.2,196.96 1502.7,196.53 1500.2,196.10 1497.8,195.69 1495.3,195.28 1492.8,194.88 1490.3,194.48 1487.8,194.10 1485.3,193.73 1482.8,193.37 1480.3,193.01 1477.8,192.67 1475.3,192.34 1472.8,192.02 1470.3,191.71 1467.8,191.41 1465.3,191.11 1462.8,190.83 1460.3,190.56 1457.8,190.30 1455.3,190.05 1452.8,189.80 1450.3,189.57 1447.8,189.35 1445.3,189.13 1442.8,188.93 1440.3,188.73 1437.8,188.55 1435.3,188.37 1432.8,188.20 1430.3,188.05 1427.8,187.90 1425.3,187.76 1422.8,187.63 1420.3,187.51 1417.8,187.39 1415.3,187.29 1412.8,187.19 1410.3,187.11 1407.8,187.03 1405.3,186.96 1402.8,186.90 1400.3,186.85 1397.8,186.81 1395.2,186.78 1392.7,186.75 1390.2,186.73 1387.7,186.73 1385.2,186.73 1382.7,186.73 1380.2,186.75 1377.7,186.77 1375.2,186.81 1372.7,186.85 1370.2,186.90 1367.7,186.95 1365.2,187.02 1362.7,187.09 1360.2,187.17 1357.7,187.26 1355.2,187.35 1352.7,187.46 1350.2,187.57 1347.7,187.69 1345.2,187.82 1342.7,187.95 1340.2,188.09 1337.7,188.24 1335.2,188.40 1332.7,188.56 1330.2,188.74 1327.7,188.93 1325.2,189.14 1322.7,189.36 1320.2,189.60 1317.7,189.86 1315.2,190.14 1312.7,190.44 1310.3,190.77 1307.8,191.12 1305.3,191.50 1302.9,191.91 1300.5,192.34 1298.0,192.81 1295.6,193.32 1293.2,193.85 1290.8,194.43 1288.4,195.04 1286.0,195.69 1283.7,196.39 1281.3,197.12 1279.0,197.91 1276.6,198.73 1274.3,199.61 1272.0,200.53 1269.8,201.50 1267.5,202.53 1265.3,203.61 1263.0,204.75 1260.8,205.93 1258.6,207.16 1256.5,208.43 1254.3,209.74 1252.2,211.08 1250.1,212.45 1248.0,213.83 1245.9,215.24 1243.9,216.65 1241.9,218.08 1239.9,219.50 1237.9,220.92 1236.0,222.35 1234.1,223.78 1232.2,225.22 1230.3,226.68 1228.5,228.16 1226.8,229.68 1225.0,231.23 1223.4,232.83 1221.7,234.48 1220.2,236.18 1218.6,237.95 1217.2,239.79 1215.8,241.69 1214.4,243.66 1213.1,245.68 1211.9,247.73 1210.6,249.81 1209.4,251.91 1208.3,254.01 1207.1,256.12 1205.9,258.21 1204.8,260.30 1203.7,262.37 1202.5,264.45 1201.4,266.51 1200.3,268.58 1199.2,270.64 1198.1,272.70 1197.1,274.75 1196.0,276.81 1194.9,278.86 1193.9,280.92 1192.8,282.97 1191.8,285.03 1190.7,287.09 1189.7,289.16 1188.7,291.23 1187.7,293.31 1186.6,295.39 1185.6,297.48 1184.6,299.57 1183.6,301.68 1182.6,303.78 1181.6,305.89 1180.6,308.01 1179.6,310.13 1178.5,312.25 1177.5,314.37 1176.5,316.49 1175.5,318.61 1174.4,320.73 1173.4,322.86 1172.3,324.98 1171.3,327.09 1170.2,329.21 1169.1,331.32 1168.0,333.42 1166.8,335.52 1165.7,337.62 1164.5,339.71 1163.4,341.79 1162.1,343.82 1160.8,345.72 1159.2,347.39 1157.3,348.72 1155.0,349.62 1152.6,350.01 1150.4,349.77 1148.6,348.94 1147.1,347.62 1145.8,345.89 1144.8,343.85 1143.9,341.62 1143.0,339.28 1142.3,336.94 1141.5,334.61 1140.8,332.30 1140.0,330.00 1139.3,327.72 1138.6,325.45 1138.0,323.18 1137.3,320.92 1136.7,318.66 1136.1,316.41 1135.5,314.16 1134.9,311.91 1134.3,309.66 1133.8,307.42 1133.2,305.18 1132.7,302.94 1132.2,300.70 1131.6,298.47 1131.1,296.23 1130.6,294.00 1130.1,291.77 1129.6,289.54 1129.1,287.31 1128.6,285.08 1128.1,282.85 1127.7,280.62 1127.2,278.39 1126.7,276.16 1126.2,273.92 1125.7,271.69 1125.1,269.46 1124.6,267.22 1124.1,264.99 1123.5,262.75 1123.0,260.51 1122.4,258.27 1121.9,256.03 1121.3,253.78 1120.7,251.53 1120.1,249.29 1119.5,247.04 1118.9,244.78 1118.3,242.53 1117.7,240.28 1117.1,238.03 1116.4,235.77 1115.8,233.52 1115.2,231.27 1114.7,229.01 1114.1,226.76 1113.5,224.51 1112.9,222.26 1112.4,220.01 1111.9,217.76 1111.4,215.52 1110.9,213.27 1110.4,211.03 1109.9,208.79 1109.5,206.55 1109.1,204.31 1108.7,202.08 1108.3,199.85 1107.9,197.62 1107.4,195.40 1106.9,193.18 1106.3,190.96 1105.6,188.75 1104.8,186.54 1103.9,184.34 1102.9,182.16 1101.8,180.01 1100.6,177.89 1099.3,175.81 1097.9,173.78 1096.4,171.81 1094.9,169.90 1093.3,168.07 1091.6,166.31 1089.9,164.65 1088.1,163.07 1086.3,161.57 1084.4,160.15 1082.5,158.81 1080.5,157.54 1078.5,156.35 1076.4,155.22 1074.3,154.16 1072.2,153.16 1070.0,152.22 1067.7,151.34 1065.5,150.51 1063.2,149.74 1060.9,149.02 1058.5,148.34 1056.1,147.71 1053.7,147.12 1051.3,146.57 1048.9,146.05 1046.4,145.57 1043.9,145.12 1041.4,144.69 1038.9,144.30 1036.4,143.92 1033.8,143.56 1031.3,143.23 1028.7,142.90 1026.2,142.59 1023.6,142.28 1021.0,141.99 1018.5,141.69 1015.9,141.40 1013.3,141.10 1010.8,140.80 1008.3,140.50 1005.7,140.18 1003.2,139.85 1000.7,139.51 998.2,139.14 995.7,138.77 993.3,138.37 990.8,137.96 988.4,137.53 985.9,137.08 983.5,136.61 981.1,136.12 978.7,135.61 976.3,135.08 973.9,134.53 971.5,133.96 969.2,133.37 966.8,132.75 964.5,132.11 962.1,131.45 959.7,130.77 957.4,130.06 955.1,129.33 952.7,128.57 950.4,127.78 948.0,126.98 945.7,126.14 943.4,125.28 941.0,124.39 938.7,123.48 936.3,122.53 934.0,121.56" stroke="#000000" stroke-width="8.25" clip-path="url(#cb)"/>
<polyline transform="scale(1 1.09)" points="934.0,105.27 936.5,105.45 939.0,105.63 941.5,105.81 944.0,105.99 946.5,106.17 949.0,106.35 951.5,106.53 954.0,106.71 956.5,106.89 959.0,107.07 961.5,107.25 964.0,107.43 966.5,107.61 969.0,107.79 971.5,107.98 974.0,108.16 976.5,108.34 979.0,108.52 981.5,108.70 984.0,108.89 986.5,109.07 989.0,109.25 991.5,109.43 994.0,109.62 996.5,109.80 999.0,109.98 1001.5,110.16 1004.0,110.35 1006.5,110.53 1009.0,110.71 1011.5,110.90 1014.0,111.08 1016.6,111.26 1019.1,111.45 1021.6,111.63 1024.1,111.81 1026.6,111.99 1029.1,112.18 1031.6,112.36 1034.1,112.54 1036.6,112.72 1039.1,112.91 1041.6,113.09 1044.1,113.27 1046.6,113.45 1049.1,113.64 1051.6,113.82 1054.1,114.00 1056.6,114.18 1059.1,114.36 1061.6,114.54 1064.2,114.72 1066.7,114.90 1069.2,115.08 1071.7,115.26 1074.2,115.44 1076.7,115.62 1079.2,115.80 1081.7,115.98 1084.2,116.16 1086.7,116.34 1089.2,116.52 1091.7,116.69 1094.2,116.87 1096.7,117.05 1099.3,117.23 1101.8,117.40 1104.3,117.58 1106.8,117.75 1109.3,117.93 1111.8,118.10 1114.3,118.28 1116.8,118.45 1119.3,118.63 1121.8,118.80 1124.3,118.97 1126.8,119.14 1129.3,119.31 1131.9,119.49 1134.4,119.66 1136.9,119.83 1139.4,120.00 1141.9,120.16 1144.4,120.33 1146.9,120.50 1149.4,120.67 1151.9,120.84 1154.4,121.00 1156.9,121.17 1159.4,121.33 1161.9,121.50 1164.5,121.66 1167.0,121.83 1169.5,121.99 1172.0,122.15 1174.5,122.31 1177.0,122.47 1179.5,122.64 1182.0,122.80 1184.5,122.96 1187.0,123.11 1189.5,123.27 1192.0,123.43 1194.5,123.59 1197.1,123.74 1199.6,123.90 1202.1,124.05 1204.6,124.21 1207.1,124.36 1209.6,124.52 1212.1,124.67 1214.6,124.82 1217.1,124.97 1219.6,125.12 1222.1,125.27 1224.6,125.42 1227.1,125.57 1229.6,125.71 1232.1,125.86 1234.7,126.01 1237.2,126.15 1239.7,126.30 1242.2,126.44 1244.7,126.58 1247.2,126.73 1249.7,126.87 1252.2,127.01 1254.7,127.15 1257.2,127.29 1259.7,127.43 1262.2,127.56 1264.7,127.70 1267.2,127.84 1269.7,127.97 1272.2,128.11 1274.7,128.24 1277.2,128.37 1279.7,128.50 1282.2,128.64 1284.8,128.77 1287.3,128.90 1289.8,129.02 1292.3,129.15 1294.8,129.28 1297.3,129.40 1299.8,129.53 1302.3,129.65 1304.8,129.78 1307.3,129.90 1309.8,130.02 1312.3,130.14 1314.8,130.27 1317.3,130.39 1319.8,130.51 1322.3,130.63 1324.8,130.76 1327.3,130.88 1329.8,131.00 1332.3,131.13 1334.8,131.26 1337.3,131.38 1339.8,131.51 1342.3,131.64 1344.8,131.78 1347.3,131.91 1349.8,132.05 1352.3,132.19 1354.8,132.33 1357.3,132.47 1359.8,132.62 1362.3,132.77 1364.8,132.92 1367.3,133.08 1369.8,133.24 1372.3,133.40 1374.8,133.57 1377.3,133.74 1379.8,133.91 1382.2,134.09 1384.7,134.27 1387.2,134.46 1389.7,134.65 1392.2,134.85 1394.7,135.05 1397.2,135.26 1399.7,135.47 1402.2,135.68 1404.7,135.91 1407.2,136.14 1409.7,136.37 1412.2,136.62 1414.7,136.87 1417.2,137.12 1419.6,137.39 1422.1,137.67 1424.6,137.95 1427.1,138.25 1429.6,138.55 1432.1,138.87 1434.6,139.19 1437.1,139.53 1439.6,139.88 1442.1,140.24 1444.5,140.62 1447.0,141.01 1449.5,141.41 1452.0,141.82 1454.5,142.25 1457.0,142.70 1459.5,143.16 1462.0,143.64 1464.4,144.13 1466.9,144.64 1469.4,145.16 1471.9,145.71 1474.4,146.27 1476.8,146.85 1479.3,147.45 1481.8,148.07 1484.2,148.70 1486.7,149.36 1489.1,150.04 1491.5,150.74 1493.9,151.47 1496.3,152.21 1498.7,152.98 1501.1,153.77 1503.5,154.58 1505.9,155.42 1508.2,156.28 1510.5,157.17 1512.8,158.08 1515.1,159.02 1517.4,159.99 1519.7,160.98 1521.9,162.00 1524.2,163.04 1526.4,164.12 1528.6,165.22 1530.7,166.35 1532.9,167.52 1535.0,168.71 1537.1,169.93 1539.2,171.18 1541.2,172.47 1543.2,173.78 1545.2,175.13 1547.2,176.51 1549.2,177.93 1551.1,179.37 1553.0,180.85 1554.8,182.37 1556.6,183.91 1558.4,185.50 1560.2,187.11 1561.9,188.77 1563.6,190.46 1565.3,192.18 1566.9,193.95 1568.4,195.74 1569.9,197.58 1571.4,199.46 1572.7,201.37 1574.0,203.32 1575.2,205.31 1576.3,207.34 1577.4,209.41 1578.3,211.52 1579.1,213.67 1579.8,215.86 1580.4,218.10 1580.9,220.37 1581.3,222.69 1581.5,225.05 1581.5,225.05 1579.1,224.56 1576.8,224.01 1574.4,223.41 1572.0,222.75 1569.6,222.06 1567.2,221.32 1564.9,220.56 1562.5,219.77 1560.1,218.97 1557.7,218.16 1555.3,217.34 1552.9,216.52 1550.5,215.71 1548.1,214.92 1545.7,214.14 1543.2,213.40 1540.8,212.68 1538.4,211.99 1536.0,211.33 1533.6,210.69 1531.1,210.08 1528.7,209.49 1526.3,208.93 1523.8,208.39 1521.4,207.87 1519.0,207.37 1516.5,206.90 1514.1,206.44 1511.6,206.00 1509.2,205.57 1506.7,205.16 1504.3,204.77 1501.8,204.39 1499.4,204.02 1496.9,203.67 1494.4,203.33 1492.0,203.00 1489.5,202.67 1487.0,202.36 1484.6,202.05 1482.1,201.75 1479.6,201.46 1477.2,201.17 1474.7,200.88 1472.2,200.60 1469.7,200.32 1467.3,200.04 1464.8,199.76 1462.3,199.48 1459.8,199.19 1457.3,198.91 1454.8,198.62 1452.3,198.33 1449.9,198.05 1447.4,197.76 1444.9,197.48 1442.4,197.20 1439.9,196.93 1437.4,196.67 1434.9,196.41 1432.4,196.17 1429.9,195.93 1427.4,195.71 1424.9,195.51 1422.4,195.32 1419.9,195.14 1417.4,194.99 1414.9,194.85 1412.4,194.74 1409.9,194.64 1407.4,194.57 1404.9,194.53 1402.4,194.51 1399.9,194.52 1397.4,194.56 1394.9,194.63 1392.4,194.73 1389.9,194.85 1387.4,195.00 1384.9,195.17 1382.4,195.36 1379.9,195.58 1377.4,195.81 1374.9,196.06 1372.4,196.32 1369.8,196.60 1367.3,196.89 1364.8,197.19 1362.3,197.49 1359.8,197.81 1357.3,198.13 1354.8,198.46 1352.3,198.80 1349.8,199.13 1347.3,199.47 1344.8,199.82 1342.3,200.16 1339.8,200.51 1337.3,200.86 1334.8,201.21 1332.3,201.55 1329.8,201.90 1327.3,202.24 1324.9,202.59 1322.4,202.92 1319.9,203.26 1317.4,203.59 1314.9,203.91 1312.4,204.23 1309.9,204.54 1307.4,204.84 1304.9,205.14 1302.5,205.44 1300.0,205.74 1297.5,206.04 1295.0,206.34 1292.6,206.64 1290.1,206.95 1287.6,207.27 1285.1,207.59 1282.7,207.92 1280.2,208.27 1277.8,208.62 1275.3,208.99 1272.8,209.37 1270.4,209.77 1268.0,210.19 1265.5,210.63 1263.1,211.08 1260.6,211.56 1258.2,212.07 1255.8,212.60 1253.4,213.15 1250.9,213.74 1248.5,214.35 1246.1,214.99 1243.7,215.67 1241.3,216.38 1238.9,217.12 1236.6,217.91 1234.2,218.73 1231.9,219.59 1229.5,220.49 1227.2,221.43 1225.0,222.42 1222.7,223.45 1220.5,224.53 1218.3,225.66 1216.1,226.84 1214.0,228.06 1211.9,229.35 1209.9,230.68 1207.8,232.07 1205.9,233.50 1203.9,234.98 1202.0,236.48 1200.1,238.00 1198.2,239.54 1196.3,241.08 1194.3,242.62 1192.4,244.15 1190.5,245.66 1188.5,247.14 1186.6,248.58 1184.5,249.99 1182.5,251.34 1180.4,252.63 1178.2,253.84 1176.0,254.93 1173.8,255.83 1171.5,256.48 1169.3,256.83 1167.1,256.81 1165.0,256.41 1162.9,255.66 1160.8,254.60 1158.9,253.25 1157.0,251.68 1155.2,249.90 1153.5,247.97 1152.0,245.93 1150.4,243.81 1149.0,241.68 1147.7,239.56 1146.4,237.45 1145.2,235.37 1144.0,233.30 1142.9,231.24 1141.8,229.19 1140.8,227.16 1139.8,225.13 1138.8,223.10 1137.8,221.08 1136.8,219.05 1135.8,217.03 1134.8,215.01 1133.8,212.97 1132.8,210.93 1131.8,208.89 1130.7,206.83 1129.7,204.75 1128.6,202.67 1127.6,200.56 1126.6,198.43 1125.6,196.29 1124.7,194.12 1123.8,191.94 1122.9,189.74 1122.0,187.53 1121.1,185.32 1120.2,183.10 1119.4,180.89 1118.5,178.68 1117.6,176.49 1116.7,174.31 1115.7,172.14 1114.7,170.00 1113.7,167.88 1112.6,165.80 1111.5,163.75 1110.3,161.73 1109.1,159.76 1107.8,157.83 1106.4,155.95 1105.0,154.13 1103.4,152.36 1101.8,150.65 1100.1,149.01 1098.3,147.44 1096.3,145.95 1094.3,144.58 1092.2,143.34 1090.0,142.28 1087.8,141.42 1085.5,140.78 1083.1,140.35 1080.7,140.06 1078.3,139.88 1075.8,139.74 1073.4,139.60 1070.9,139.46 1068.4,139.33 1065.9,139.19 1063.4,139.05 1060.9,138.91 1058.4,138.77 1055.8,138.62 1053.3,138.47 1050.8,138.32 1048.2,138.16 1045.7,138.00 1043.1,137.83 1040.6,137.66 1038.0,137.47 1035.5,137.28 1032.9,137.09 1030.4,136.88 1027.8,136.66 1025.3,136.44 1022.8,136.20 1020.3,135.95 1017.7,135.69 1015.2,135.42 1012.7,135.13 1010.2,134.83 1007.7,134.52 1005.3,134.19 1002.8,133.84 1000.3,133.48 997.8,133.10 995.4,132.70 992.9,132.28 990.5,131.85 988.1,131.39 985.6,130.91 983.2,130.41 980.8,129.89 978.4,129.35 976.0,128.78 973.6,128.19 971.2,127.57 968.8,126.93 966.4,126.26 964.1,125.56 961.7,124.84 959.4,124.09 957.0,123.31 954.7,122.50 952.3,121.66 950.0,120.79 947.7,119.88 945.4,118.95 943.1,117.98 940.8,116.98 938.5,115.94 936.3,114.87 934.0,113.76" stroke="#ff0000" stroke-width="8.25" clip-path="url(#cb)"/>
<polyline transform="scale(1 1.09)" points="934.0,107.48 936.5,107.65 939.0,107.81 941.6,107.98 944.1,108.16 946.6,108.33 949.1,108.50 951.7,108.68 954.2,108.85 956.7,109.03 959.2,109.21 961.7,109.38 964.3,109.56 966.8,109.74 969.3,109.92 971.8,110.11 974.3,110.29 976.9,110.47 979.4,110.66 981.9,110.84 984.4,111.02 987.0,111.21 989.5,111.40 992.0,111.58 994.5,111.77 997.0,111.95 999.6,112.14 1002.1,112.33 1004.6,112.51 1007.1,112.70 1009.6,112.89 1012.2,113.07 1014.7,113.26 1017.2,113.45 1019.7,113.63 1022.3,113.82 1024.8,114.00 1027.3,114.19 1029.8,114.37 1032.3,114.56 1034.9,114.74 1037.4,114.92 1039.9,115.11 1042.4,115.29 1045.0,115.47 1047.5,115.65 1050.0,115.83 1052.5,116.01 1055.0,116.18 1057.6,116.36 1060.1,116.54 1062.6,116.71 1065.1,116.88 1067.7,117.06 1070.2,117.23 1072.7,117.40 1075.2,117.56 1077.7,117.73 1080.3,117.90 1082.8,118.06 1085.3,118.22 1087.8,118.38 1090.4,118.54 1092.9,118.70 1095.4,118.86 1097.9,119.01 1100.5,119.16 1103.0,119.31 1105.5,119.46 1108.0,119.61 1110.5,119.75 1113.1,119.89 1115.6,120.03 1118.1,120.17 1120.6,120.31 1123.2,120.44 1125.7,120.57 1128.2,120.70 1130.7,120.83 1133.3,120.95 1135.8,121.07 1138.3,121.19 1140.8,121.31 1143.4,121.42 1145.9,121.53 1148.4,121.64 1151.0,121.74 1153.5,121.84 1156.0,121.94 1158.5,122.04 1161.1,122.13 1163.6,122.22 1166.1,122.31 1168.6,122.39 1171.2,122.47 1173.7,122.55" stroke="#ff0000" stroke-width="8.25" clip-path="url(#cb)"/>
<polyline transform="scale(1 1.09)" points="934.0,92.00 936.5,92.31 939.0,92.63 941.5,92.95 943.9,93.27 946.4,93.60 948.9,93.93 951.4,94.26 953.9,94.60 956.4,94.93 958.9,95.27 961.3,95.62 963.8,95.96 966.3,96.30 968.8,96.65 971.3,97.00 973.8,97.35 976.3,97.69 978.8,98.04 981.3,98.39 983.8,98.74 986.2,99.09 988.7,99.43 991.2,99.78 993.7,100.13 996.2,100.47 998.7,100.81 1001.2,101.15 1003.7,101.49 1006.2,101.82 1008.7,102.16 1011.2,102.49 1013.7,102.81 1016.2,103.14 1018.7,103.46 1021.2,103.77 1023.6,104.08 1026.1,104.39 1028.6,104.69 1031.1,104.99 1033.6,105.29 1036.1,105.57 1038.6,105.86 1041.1,106.14 1043.6,106.42 1046.1,106.69 1048.6,106.96 1051.1,107.22 1053.6,107.48 1056.1,107.74 1058.6,107.99 1061.1,108.25 1063.6,108.49 1066.1,108.74 1068.6,108.98 1071.1,109.22 1073.6,109.46 1076.1,109.69 1078.6,109.92 1081.1,110.15 1083.6,110.37 1086.1,110.60 1088.6,110.82 1091.1,111.04 1093.6,111.26 1096.1,111.48 1098.6,111.69 1101.1,111.91 1103.6,112.12 1106.1,112.33 1108.6,112.54 1111.1,112.75 1113.6,112.96 1116.1,113.16 1118.6,113.37 1121.1,113.58 1123.6,113.78 1126.1,113.99 1128.6,114.19 1131.1,114.40 1133.6,114.61 1136.1,114.81 1138.6,115.02 1141.1,115.22 1143.6,115.43 1146.1,115.64 1148.6,115.84 1151.1,116.05 1153.6,116.26 1156.1,116.47 1158.6,116.69 1161.1,116.90 1163.6,117.11 1166.1,117.33 1168.6,117.55 1171.1,117.77 1173.6,117.99 1176.1,118.21 1178.6,118.44 1181.1,118.67 1183.6,118.89 1186.1,119.13 1188.6,119.36 1191.1,119.59 1193.6,119.83 1196.1,120.07 1198.6,120.31 1201.1,120.55 1203.6,120.79 1206.1,121.03 1208.6,121.28 1211.1,121.52 1213.6,121.77 1216.1,122.02 1218.6,122.27 1221.1,122.52 1223.6,122.77 1226.1,123.03 1228.6,123.28 1231.1,123.54 1233.6,123.79 1236.1,124.05 1238.6,124.31 1241.1,124.57 1243.6,124.83 1246.1,125.09 1248.6,125.35 1251.1,125.61 1253.6,125.87 1256.1,126.13 1258.6,126.40 1261.1,126.66 1263.6,126.92 1266.1,127.19 1268.6,127.45 1271.1,127.72 1273.6,127.98 1276.1,128.25 1278.6,128.51 1281.1,128.78 1283.6,129.04 1286.1,129.30 1288.6,129.57 1291.1,129.83 1293.6,130.10 1296.1,130.36 1298.6,130.62 1301.1,130.89 1303.6,131.15 1306.1,131.41 1308.6,131.68 1311.1,131.94 1313.5,132.20 1316.0,132.47 1318.5,132.73 1321.0,133.00 1323.5,133.26 1326.0,133.53 1328.5,133.80 1331.0,134.08 1333.5,134.35 1336.0,134.63 1338.5,134.90 1341.0,135.19 1343.5,135.47 1346.0,135.76 1348.4,136.05 1350.9,136.34 1353.4,136.64 1355.9,136.94 1358.4,137.24 1360.9,137.55 1363.4,137.86 1365.9,138.18 1368.4,138.50 1370.8,138.83 1373.3,139.16 1375.8,139.50 1378.3,139.84 1380.8,140.19 1383.3,140.54 1385.8,140.90 1388.2,141.27 1390.7,141.64 1393.2,142.02 1395.7,142.41 1398.2,142.80 1400.7,143.20 1403.1,143.61 1405.6,144.02 1408.1,144.45 1410.6,144.88 1413.1,145.32 1415.6,145.76 1418.0,146.22 1420.5,146.68 1423.0,147.16 1425.5,147.64 1428.0,148.13 1430.4,148.63 1432.9,149.14 1435.4,149.67 1437.9,150.20 1440.3,150.74 1442.8,151.30 1445.2,151.86 1447.7,152.44 1450.2,153.03 1452.6,153.63 1455.1,154.25 1457.5,154.88 1459.9,155.52 1462.4,156.17 1464.8,156.84 1467.2,157.53 1469.6,158.23 1472.0,158.94 1474.4,159.67 1476.8,160.42 1479.2,161.18 1481.5,161.96 1483.9,162.75 1486.3,163.56 1488.6,164.39 1490.9,165.24 1493.2,166.10 1495.5,166.98 1497.8,167.89 1500.1,168.81 1502.4,169.75 1504.7,170.71 1506.9,171.69 1509.1,172.69 1511.3,173.72 1513.6,174.76 1515.7,175.84 1517.9,176.93 1520.1,178.05 1522.2,179.20 1524.3,180.38 1526.5,181.58 1528.5,182.81 1530.6,184.06 1532.7,185.35 1534.7,186.67 1536.7,188.01 1538.8,189.39 1540.7,190.80 1542.7,192.25 1544.6,193.72 1546.6,195.23 1548.5,196.78 1550.4,198.36 1552.2,199.97 1554.0,201.62 1555.8,203.30 1557.6,205.01 1559.3,206.76 1560.9,208.54 1562.5,210.34 1564.0,212.18 1565.5,214.05 1566.9,215.95 1568.3,217.88 1569.5,219.83 1570.7,221.82 1571.8,223.83 1572.8,225.87 1573.8,227.94 1574.6,230.03 1575.5,232.14 1576.2,234.29 1577.0,236.45 1577.7,238.64 1578.3,240.86 1579.0,243.10 1579.5,245.36 1580.1,247.64 1580.6,249.94 1581.1,252.26 1581.5,254.60 1581.9,256.97 1582.2,259.35 1582.4,261.74 1582.4,261.74 1580.3,260.24 1578.2,258.86 1576.1,257.59 1574.0,256.39 1571.9,255.27 1569.8,254.20 1567.6,253.17 1565.5,252.16 1563.4,251.15 1561.2,250.13 1559.1,249.07 1556.9,247.97 1554.8,246.83 1552.6,245.64 1550.5,244.42 1548.3,243.18 1546.1,241.91 1543.9,240.64 1541.7,239.35 1539.5,238.07 1537.3,236.80 1535.1,235.54 1532.9,234.30 1530.7,233.09 1528.5,231.91 1526.3,230.75 1524.0,229.61 1521.8,228.51 1519.5,227.42 1517.3,226.36 1515.0,225.33 1512.8,224.32 1510.5,223.33 1508.2,222.36 1505.9,221.42 1503.6,220.50 1501.3,219.60 1499.0,218.72 1496.7,217.86 1494.4,217.03 1492.1,216.21 1489.7,215.42 1487.4,214.64 1485.1,213.88 1482.7,213.14 1480.4,212.42 1478.0,211.72 1475.6,211.04 1473.2,210.37 1470.9,209.72 1468.5,209.09 1466.1,208.48 1463.7,207.88 1461.3,207.29 1458.8,206.73 1456.4,206.18 1454.0,205.64 1451.6,205.12 1449.1,204.62 1446.7,204.13 1444.3,203.65 1441.8,203.19 1439.4,202.74 1436.9,202.31 1434.4,201.89 1432.0,201.48 1429.5,201.09 1427.0,200.70 1424.5,200.33 1422.1,199.97 1419.6,199.63 1417.1,199.29 1414.6,198.97 1412.1,198.65 1409.6,198.35 1407.1,198.05 1404.6,197.77 1402.1,197.50 1399.6,197.23 1397.1,196.98 1394.6,196.73 1392.1,196.49 1389.5,196.27 1387.0,196.04 1384.5,195.83 1382.0,195.62 1379.5,195.43 1376.9,195.23 1374.4,195.05 1371.9,194.87 1369.4,194.70 1366.8,194.53 1364.3,194.37 1361.8,194.21 1359.3,194.06 1356.7,193.92 1354.2,193.78 1351.7,193.65 1349.2,193.52 1346.6,193.40 1344.1,193.29 1341.6,193.19 1339.1,193.10 1336.5,193.02 1334.0,192.94 1331.5,192.88 1329.0,192.83 1326.4,192.79 1323.9,192.76 1321.4,192.74 1318.9,192.73 1316.4,192.74 1313.9,192.76 1311.3,192.79 1308.8,192.84 1306.3,192.90 1303.8,192.98 1301.3,193.07 1298.8,193.18 1296.3,193.31 1293.8,193.45 1291.3,193.61 1288.8,193.78 1286.3,193.98 1283.8,194.19 1281.4,194.42 1278.9,194.67 1276.4,194.94 1273.9,195.23 1271.5,195.55 1269.0,195.88 1266.5,196.23 1264.1,196.61 1261.6,197.01 1259.2,197.43 1256.7,197.87 1254.3,198.34 1251.8,198.84 1249.4,199.35 1247.0,199.89 1244.5,200.46 1242.1,201.06 1239.7,201.68 1237.3,202.32 1234.9,203.00 1232.5,203.70 1230.1,204.43 1227.7,205.19 1225.4,205.97 1223.0,206.79 1220.7,207.64 1218.3,208.51 1216.0,209.42 1213.7,210.36 1211.5,211.33 1209.2,212.33 1206.9,213.37 1204.7,214.44 1202.5,215.54 1200.3,216.67 1198.1,217.84 1195.9,219.04 1193.8,220.28 1191.7,221.56 1189.6,222.87 1187.5,224.22 1185.5,225.60 1183.5,227.01 1181.4,228.43 1179.4,229.80 1177.4,231.10 1175.3,232.29 1173.2,233.34 1171.0,234.20 1168.8,234.84 1166.5,235.22 1164.1,235.31 1161.6,235.07 1159.2,234.46 1156.9,233.45 1154.7,232.04 1152.6,230.34 1150.6,228.48 1148.8,226.61 1147.0,224.80 1145.2,223.05 1143.6,221.33 1141.9,219.63 1140.3,217.93 1138.7,216.21 1137.2,214.45 1135.6,212.67 1134.0,210.87 1132.5,209.04 1130.9,207.20 1129.4,205.33 1127.9,203.46 1126.5,201.57 1125.0,199.67 1123.6,197.77 1122.2,195.86 1120.8,193.96 1119.4,192.05 1118.1,190.15 1116.8,188.26 1115.5,186.38 1114.1,184.51 1112.8,182.65 1111.5,180.81 1110.1,178.98 1108.7,177.16 1107.3,175.34 1105.8,173.51 1104.3,171.68 1102.8,169.82 1101.2,167.95 1099.5,166.07 1097.9,164.20 1096.1,162.36 1094.3,160.58 1092.5,158.89 1090.6,157.31 1088.6,155.84 1086.6,154.49 1084.5,153.26 1082.4,152.13 1080.2,151.10 1078.0,150.16 1075.7,149.30 1073.4,148.53 1071.0,147.83 1068.6,147.19 1066.2,146.62 1063.8,146.10 1061.4,145.62 1058.9,145.19 1056.4,144.79 1053.9,144.42 1051.4,144.07 1049.0,143.74 1046.5,143.43 1044.0,143.13 1041.5,142.83 1039.0,142.55 1036.5,142.28 1034.0,142.02 1031.4,141.76 1028.9,141.51 1026.4,141.26 1023.9,141.01 1021.4,140.75 1018.9,140.50 1016.4,140.25 1013.9,139.98 1011.4,139.72 1008.9,139.44 1006.4,139.16 1003.9,138.86 1001.4,138.55 998.9,138.22 996.4,137.89 993.9,137.53 991.5,137.16 989.0,136.77 986.5,136.37 984.0,135.94 981.6,135.50 979.1,135.03 976.6,134.54 974.2,134.03 971.7,133.50 969.3,132.94 966.9,132.36 964.5,131.75 962.1,131.12 959.7,130.46 957.3,129.76 954.9,129.04 952.5,128.29 950.2,127.51 947.8,126.70 945.5,125.85 943.2,124.97 940.8,124.06 938.6,123.11 936.3,122.12 934.0,121.10" stroke="#0000ff" stroke-width="8.25" clip-path="url(#cb)"/>
<polyline transform="scale(1 1.09)" points="934.0,91.37 936.5,91.55 939.0,91.76 941.5,91.99 944.0,92.26 946.5,92.54 948.9,92.85 951.4,93.17 953.9,93.52 956.4,93.88 958.9,94.25 961.4,94.63 963.9,95.03 966.4,95.42 968.9,95.83 971.3,96.23 973.8,96.64 976.3,97.05 978.8,97.45 981.3,97.84 983.8,98.23 986.3,98.62 988.8,99.00 991.3,99.37 993.7,99.74 996.2,100.10 998.7,100.46 1001.2,100.81 1003.7,101.16 1006.2,101.50 1008.7,101.84 1011.1,102.17 1013.6,102.50 1016.1,102.82 1018.6,103.14 1021.1,103.46 1023.6,103.77 1026.1,104.07 1028.6,104.38 1031.0,104.68 1033.5,104.97 1036.0,105.26 1038.5,105.55 1041.0,105.83 1043.5,106.12 1046.0,106.39 1048.4,106.67 1050.9,106.94 1053.4,107.21 1055.9,107.47 1058.4,107.73 1060.9,107.99 1063.4,108.25 1065.9,108.50 1068.3,108.76 1070.8,109.01 1073.3,109.25 1075.8,109.50 1078.3,109.74 1080.8,109.98 1083.3,110.22 1085.8,110.46 1088.2,110.69 1090.7,110.93 1093.2,111.16 1095.7,111.39 1098.2,111.62 1100.7,111.85 1103.2,112.08 1105.7,112.30 1108.1,112.53 1110.6,112.76 1113.1,112.98 1115.6,113.21 1118.1,113.43 1120.6,113.66 1123.1,113.88 1125.6,114.11 1128.0,114.33 1130.5,114.56 1133.0,114.79 1135.5,115.01 1138.0,115.24 1140.5,115.47 1143.0,115.70 1145.5,115.93 1148.0,116.16 1150.5,116.39 1152.9,116.62 1155.4,116.86 1157.9,117.10 1160.4,117.33 1162.9,117.58 1165.4,117.82 1167.9,118.06 1170.4,118.31 1172.9,118.56 1175.4,118.81 1177.9,119.06 1180.4,119.32 1182.9,119.58 1185.4,119.84 1187.8,120.11 1190.3,120.38 1192.8,120.65 1195.3,120.92 1197.8,121.20 1200.3,121.49 1202.8,121.77 1205.3,122.06 1207.8,122.36 1210.3,122.65 1212.8,122.96 1215.3,123.26 1217.8,123.57 1220.3,123.89 1222.8,124.21 1225.3,124.53 1227.8,124.86 1230.3,125.20 1232.8,125.53 1235.3,125.87 1237.8,126.22 1240.3,126.57 1242.8,126.92 1245.3,127.28 1247.8,127.64 1250.3,128.00 1252.8,128.37 1255.3,128.73 1257.8,129.11 1260.3,129.48 1262.8,129.85 1265.3,130.23 1267.8,130.61 1270.3,130.99 1272.8,131.38 1275.3,131.76 1277.8,132.15 1280.3,132.53 1282.8,132.92 1285.3,133.31 1287.8,133.70 1290.3,134.09 1292.7,134.48 1295.2,134.87 1297.7,135.26 1300.2,135.65 1302.7,136.04 1305.2,136.43 1307.7,136.81 1310.2,137.20 1312.7,137.59 1315.2,137.97 1317.6,138.36 1320.1,138.74 1322.6,139.12 1325.1,139.50 1327.6,139.87 1330.0,140.25 1332.5,140.62 1335.0,140.99 1337.5,141.36 1339.9,141.72 1342.4,142.08 1344.9,142.44 1347.3,142.80 1349.8,143.16 1352.3,143.52 1354.7,143.87 1357.2,144.23 1359.7,144.59 1362.1,144.95 1364.6,145.32 1367.0,145.68 1369.5,146.06 1371.9,146.43 1374.4,146.81 1376.8,147.20 1379.3,147.59 1381.7,147.99 1384.2,148.39 1386.6,148.81 1389.0,149.23 1391.5,149.66 1393.9,150.10 1396.3,150.56 1398.8,151.02 1401.2,151.49 1403.6,151.98 1406.0,152.48 1408.5,152.99 1410.9,153.52 1413.3,154.06 1415.7,154.61 1418.1,155.18 1420.5,155.77 1422.9,156.37 1425.3,156.99 1427.7,157.63 1430.1,158.29 1432.5,158.97 1434.9,159.66 1437.3,160.38 1439.6,161.12 1442.0,161.87 1444.4,162.65 1446.8,163.46 1449.1,164.28 1451.5,165.13 1453.9,166.01 1456.2,166.91 1458.6,167.83 1460.9,168.77 1463.2,169.75 1465.6,170.74 1467.9,171.76 1470.2,172.81 1472.4,173.88 1474.7,174.98 1476.9,176.10 1479.2,177.26 1481.4,178.43 1483.6,179.64 1485.7,180.87 1487.9,182.12 1490.0,183.41 1492.1,184.72 1494.1,186.06 1496.2,187.43 1498.2,188.83 1500.2,190.25 1502.1,191.70 1504.0,193.19 1505.9,194.70 1507.7,196.24 1509.6,197.81 1511.3,199.41 1513.1,201.04 1514.8,202.70 1516.4,204.39 1518.0,206.12 1519.6,207.87 1521.1,209.65 1522.6,211.47 1524.0,213.32 1525.4,215.19 1526.7,217.10 1528.0,219.04 1529.3,221.00 1530.5,222.99 1531.7,225.00 1532.8,227.04 1533.9,229.09 1535.0,231.17 1536.0,233.26 1537.1,235.37 1538.1,237.49 1539.0,239.62 1540.0,241.77 1540.9,243.93 1541.8,246.09 1542.8,248.27 1543.6,250.44 1544.5,252.62 1545.4,254.81 1546.3,256.99 1547.1,259.18 1548.0,261.36 1548.8,263.54 1549.7,265.73 1550.5,267.91 1551.3,270.10 1552.2,272.28 1553.0,274.47 1553.8,276.66 1554.6,278.85 1555.3,281.04 1556.1,283.24 1556.9,285.44 1557.6,287.64 1558.3,289.85 1559.1,292.06 1559.8,294.27 1560.4,296.48 1561.1,298.70 1561.8,300.92 1562.4,303.14 1563.1,305.37 1563.7,307.59 1564.3,309.82 1564.9,312.06 1565.5,314.29 1566.1,316.53 1566.7,318.77 1567.2,321.01 1567.8,323.26 1568.3,325.51 1568.8,327.76 1569.3,330.01 1569.8,332.26 1570.3,334.52 1570.8,336.78 1571.3,339.04 1571.7,341.30 1572.2,343.57 1572.6,345.83 1573.0,348.10 1573.4,350.37 1573.8,352.64 1574.2,354.91 1574.6,357.19 1575.0,359.46 1575.4,361.74 1575.7,364.02 1576.1,366.30 1576.4,368.59 1576.7,370.87 1577.1,373.15 1577.4,375.44 1577.7,377.73 1578.0,380.02 1578.2,382.31 1578.5,384.60 1578.8,386.89 1579.1,389.18 1579.3,391.48 1579.6,393.77 1579.8,396.07 1580.0,398.36 1580.2,400.66 1580.5,402.96 1580.7,405.26 1580.9,407.55 1581.1,409.85 1581.2,412.15 1581.4,414.45 1581.6,416.76 1581.7,419.06 1581.9,421.36 1582.1,423.66 1582.2,425.96 1582.2,425.96 1581.6,423.70 1580.9,421.45 1580.3,419.19 1579.7,416.94 1579.0,414.69 1578.4,412.45 1577.8,410.20 1577.2,407.96 1576.6,405.72 1576.0,403.48 1575.4,401.24 1574.8,399.01 1574.2,396.77 1573.7,394.54 1573.1,392.32 1572.6,390.09 1572.1,387.87 1571.5,385.64 1571.0,383.42 1570.5,381.20 1569.9,378.99 1569.4,376.77 1568.8,374.56 1568.2,372.35 1567.6,370.14 1567.0,367.94 1566.3,365.73 1565.7,363.53 1565.0,361.33 1564.2,359.13 1563.5,356.93 1562.8,354.73 1562.0,352.54 1561.2,350.35 1560.4,348.16 1559.6,345.97 1558.7,343.78 1557.9,341.59 1557.0,339.41 1556.2,337.23 1555.3,335.04 1554.4,332.87 1553.5,330.69 1552.6,328.51 1551.7,326.34 1550.8,324.16 1549.9,321.99 1548.9,319.82 1548.0,317.65 1547.1,315.48 1546.1,313.32 1545.2,311.15 1544.2,308.99 1543.3,306.82 1542.4,304.66 1541.4,302.50 1540.5,300.35 1539.5,298.19 1538.6,296.04 1537.7,293.90 1536.7,291.76 1535.7,289.63 1534.8,287.50 1533.8,285.39 1532.8,283.29 1531.7,281.19 1530.7,279.11 1529.7,277.05 1528.6,275.00 1527.5,272.96 1526.3,270.94 1525.2,268.94 1524.0,266.96 1522.8,264.99 1521.5,263.05 1520.2,261.13 1518.9,259.23 1517.5,257.36 1516.1,255.51 1514.6,253.69 1513.1,251.89 1511.6,250.12 1510.0,248.38 1508.4,246.67 1506.7,244.99 1504.9,243.35 1503.1,241.74 1501.2,240.16 1499.3,238.61 1497.3,237.11 1495.3,235.64 1493.3,234.20 1491.2,232.81 1489.1,231.46 1486.9,230.15 1484.7,228.88 1482.5,227.66 1480.3,226.48 1478.0,225.34 1475.7,224.25 1473.4,223.21 1471.1,222.22 1468.8,221.28 1466.5,220.38 1464.2,219.52 1461.9,218.70 1459.5,217.92 1457.2,217.18 1454.8,216.46 1452.5,215.78 1450.1,215.11 1447.7,214.48 1445.4,213.86 1443.0,213.26 1440.6,212.68 1438.2,212.10 1435.8,211.54 1433.4,210.99 1430.9,210.43 1428.5,209.88 1426.1,209.33 1423.7,208.78 1421.2,208.22 1418.8,207.65 1416.3,207.09 1413.9,206.54 1411.4,206.00 1408.9,205.48 1406.5,204.97 1404.0,204.49 1401.5,204.04 1399.0,203.63 1396.6,203.25 1394.1,202.91 1391.6,202.60 1389.1,202.32 1386.6,202.08 1384.1,201.86 1381.6,201.68 1379.1,201.52 1376.6,201.38 1374.1,201.27 1371.6,201.18 1369.0,201.10 1366.5,201.05 1364.0,201.01 1361.5,200.99 1359.0,200.98 1356.5,200.98 1353.9,200.99 1351.4,201.01 1348.9,201.03 1346.4,201.07 1343.9,201.10 1341.3,201.13 1338.8,201.17 1336.3,201.20 1333.8,201.23 1331.3,201.27 1328.7,201.30 1326.2,201.33 1323.7,201.37 1321.2,201.41 1318.7,201.45 1316.1,201.50 1313.6,201.56 1311.1,201.62 1308.6,201.69 1306.1,201.77 1303.6,201.86 1301.1,201.97 1298.6,202.08 1296.0,202.20 1293.5,202.34 1291.0,202.50 1288.5,202.66 1286.0,202.85 1283.5,203.05 1281.0,203.27 1278.5,203.51 1276.0,203.77 1273.5,204.05 1271.0,204.35 1268.5,204.68 1266.0,205.03 1263.5,205.40 1261.0,205.79 1258.5,206.19 1256.1,206.58 1253.6,206.97 1251.1,207.33 1248.6,207.66 1246.1,207.95 1243.6,208.18 1241.1,208.36 1238.7,208.47 1236.2,208.49 1233.7,208.42 1231.2,208.26 1228.8,208.01 1226.3,207.66 1223.9,207.23 1221.4,206.71 1219.0,206.10 1216.6,205.42 1214.2,204.66 1211.9,203.82 1209.6,202.91 1207.3,201.92 1205.0,200.87 1202.8,199.75 1200.6,198.57 1198.5,197.32 1196.4,196.02 1194.3,194.66 1192.3,193.25 1190.3,191.80 1188.4,190.30 1186.5,188.76 1184.6,187.19 1182.8,185.60 1180.9,183.98 1179.1,182.34 1177.4,180.68 1175.6,179.01 1173.9,177.34 1172.2,175.67 1170.5,173.99 1168.8,172.33 1167.2,170.67 1165.5,169.01 1163.8,167.36 1162.2,165.70 1160.5,164.04 1158.8,162.38 1157.2,160.70 1155.5,159.02 1153.7,157.32 1152.0,155.60 1150.2,153.87 1148.5,152.11 1146.6,150.34 1144.8,148.59 1142.9,146.93 1140.9,145.41 1138.8,144.08 1136.7,142.98 1134.4,142.08 1132.1,141.36 1129.8,140.78 1127.4,140.33 1125.0,139.97 1122.5,139.67 1120.1,139.40 1117.6,139.14 1115.1,138.89 1112.7,138.64 1110.2,138.40 1107.7,138.16 1105.2,137.92 1102.8,137.68 1100.3,137.45 1097.8,137.22 1095.3,136.99 1092.8,136.76 1090.3,136.53 1087.8,136.31 1085.3,136.08 1082.9,135.86 1080.4,135.63 1077.9,135.40 1075.4,135.18 1072.9,134.95 1070.4,134.72 1067.9,134.49 1065.4,134.26 1062.9,134.03 1060.4,133.79 1057.9,133.55 1055.4,133.31 1052.8,133.06 1050.3,132.81 1047.8,132.56 1045.3,132.30 1042.8,132.04 1040.3,131.77 1037.8,131.50 1035.3,131.23 1032.8,130.94 1030.3,130.66 1027.8,130.36 1025.3,130.06 1022.8,129.75 1020.3,129.44 1017.8,129.11 1015.3,128.78 1012.8,128.45 1010.3,128.10 1007.8,127.74 1005.3,127.38 1002.8,127.01 1000.3,126.62 997.8,126.23 995.3,125.83 992.8,125.41 990.3,124.98 987.8,124.53 985.3,124.07 982.9,123.59 980.4,123.09 977.9,122.58 975.5,122.04 973.1,121.49 970.6,120.91 968.2,120.31 965.8,119.68 963.4,119.03 961.1,118.36 958.7,117.65 956.4,116.92 954.0,116.16 951.7,115.37 949.5,114.55 947.2,113.69 944.9,112.80 942.7,111.86 940.5,110.83 938.3,109.68 936.1,108.37 934.0,106.88" stroke="#008080" stroke-width="8.25" clip-path="url(#cb)"/>
<polyline transform="scale(1 1.09)" points="934.0,84.93 936.5,85.31 939.0,85.69 941.4,86.06 943.9,86.43 946.4,86.80 948.9,87.17 951.4,87.54 953.9,87.90 956.3,88.27 958.8,88.63 961.3,88.99 963.8,89.35 966.3,89.70 968.7,90.06 971.2,90.41 973.7,90.76 976.2,91.11 978.7,91.46 981.2,91.81 983.7,92.15 986.1,92.50 988.6,92.84 991.1,93.18 993.6,93.52 996.1,93.86 998.6,94.19 1001.0,94.53 1003.5,94.86 1006.0,95.19 1008.5,95.52 1011.0,95.85 1013.5,96.17 1016.0,96.50 1018.5,96.82 1020.9,97.14 1023.4,97.46 1025.9,97.78 1028.4,98.10 1030.9,98.42 1033.4,98.73 1035.9,99.05 1038.4,99.36 1040.9,99.67 1043.3,99.98 1045.8,100.28 1048.3,100.59 1050.8,100.90 1053.3,101.20 1055.8,101.50 1058.3,101.80 1060.8,102.10 1063.3,102.40 1065.8,102.70 1068.2,102.99 1070.7,103.29 1073.2,103.58 1075.7,103.87 1078.2,104.16 1080.7,104.45 1083.2,104.74 1085.7,105.02 1088.2,105.31 1090.7,105.59 1093.2,105.87 1095.7,106.15 1098.2,106.43 1100.7,106.71 1103.1,106.99 1105.6,107.27 1108.1,107.54 1110.6,107.82 1113.1,108.09 1115.6,108.36 1118.1,108.63 1120.6,108.90 1123.1,109.17 1125.6,109.44 1128.1,109.70 1130.6,109.97 1133.1,110.23 1135.6,110.49 1138.1,110.75 1140.6,111.02 1143.1,111.27 1145.6,111.53 1148.1,111.79 1150.6,112.05 1153.1,112.30 1155.6,112.56 1158.1,112.81 1160.6,113.06 1163.1,113.31 1165.5,113.56 1168.0,113.81 1170.5,114.06 1173.0,114.30 1175.5,114.55 1178.0,114.80 1180.5,115.04 1183.0,115.28 1185.5,115.53 1188.0,115.77 1190.5,116.01 1193.0,116.25 1195.5,116.48 1198.0,116.72 1200.5,116.96 1203.0,117.19 1205.5,117.43 1208.0,117.66 1210.5,117.90 1213.0,118.13 1215.5,118.36 1218.0,118.59 1220.5,118.82 1223.0,119.05 1225.6,119.28 1228.1,119.51 1230.6,119.73 1233.1,119.96 1235.6,120.18 1238.1,120.41 1240.6,120.63 1243.1,120.86 1245.6,121.08 1248.1,121.30 1250.6,121.53 1253.1,121.75 1255.6,121.97 1258.1,122.19 1260.6,122.41 1263.1,122.64 1265.6,122.86 1268.1,123.08 1270.6,123.30 1273.1,123.52 1275.6,123.74 1278.1,123.96 1280.6,124.18 1283.1,124.41 1285.6,124.63 1288.1,124.85 1290.6,125.07 1293.1,125.29 1295.6,125.52 1298.1,125.74 1300.6,125.96 1303.1,126.19 1305.6,126.41 1308.1,126.64 1310.6,126.87 1313.1,127.09 1315.6,127.32 1318.1,127.55 1320.6,127.78 1323.1,128.01 1325.6,128.24 1328.1,128.47 1330.6,128.70 1333.1,128.94 1335.6,129.17 1338.1,129.41 1340.6,129.64 1343.1,129.88 1345.6,130.12 1348.1,130.36 1350.6,130.61 1353.1,130.85 1355.6,131.09 1358.1,131.34 1360.6,131.59 1363.1,131.84 1365.6,132.09 1368.1,132.34 1370.6,132.59 1373.1,132.85 1375.6,133.11 1378.1,133.37 1380.6,133.63 1383.1,133.89 1385.6,134.16 1388.0,134.42 1390.5,134.69 1393.0,134.97 1395.5,135.24 1398.0,135.53 1400.5,135.82 1403.0,136.13 1405.5,136.44 1407.9,136.77 1410.4,137.10 1412.9,137.46 1415.4,137.83 1417.8,138.22 1420.3,138.63 1422.7,139.05 1425.2,139.50 1427.7,139.98 1430.1,140.47 1432.5,141.00 1435.0,141.55 1437.4,142.13 1439.8,142.74 1442.2,143.38 1444.6,144.05 1447.1,144.76 1449.4,145.51 1451.8,146.28 1454.2,147.09 1456.6,147.94 1459.0,148.81 1461.3,149.70 1463.7,150.62 1466.0,151.56 1468.3,152.52 1470.6,153.50 1473.0,154.49 1475.3,155.49 1477.5,156.51 1479.8,157.55 1482.1,158.59 1484.3,159.66 1486.6,160.74 1488.8,161.83 1491.0,162.94 1493.1,164.07 1495.3,165.21 1497.4,166.38 1499.5,167.57 1501.6,168.79 1503.7,170.04 1505.7,171.33 1507.7,172.65 1509.7,174.02 1511.6,175.43 1513.5,176.89 1515.4,178.38 1517.3,179.92 1519.1,181.49 1520.8,183.10 1522.6,184.75 1524.3,186.43 1525.9,188.15 1527.5,189.90 1529.1,191.68 1530.6,193.49 1532.1,195.32 1533.5,197.19 1534.9,199.09 1536.3,201.00 1537.6,202.95 1538.9,204.92 1540.1,206.91 1541.3,208.92 1542.4,210.95 1543.5,213.01 1544.6,215.08 1545.7,217.17 1546.7,219.28 1547.7,221.40 1548.6,223.54 1549.5,225.70 1550.4,227.86 1551.3,230.04 1552.2,232.23 1553.0,234.43 1553.8,236.64 1554.6,238.86 1555.3,241.08 1556.1,243.31 1556.8,245.55 1557.5,247.79 1558.2,250.03 1558.9,252.28 1559.6,254.53 1560.2,256.77 1560.9,259.02 1561.5,261.27 1562.1,263.51 1562.8,265.76 1563.4,268.00 1564.0,270.25 1564.6,272.49 1565.1,274.73 1565.7,276.98 1566.3,279.22 1566.8,281.46 1567.4,283.71 1567.9,285.95 1568.5,288.19 1569.0,290.44 1569.5,292.68 1570.1,294.93 1570.6,297.17 1571.1,299.42 1571.6,301.67 1572.1,303.91 1572.6,306.16 1573.1,308.41 1573.6,310.66 1574.0,312.91 1574.5,315.17 1575.0,317.42 1575.5,319.68 1575.9,321.93 1576.4,324.19 1576.9,326.45 1577.3,328.72 1577.7,330.98 1578.2,333.25 1578.6,335.51 1579.0,337.78 1579.4,340.06 1579.8,342.33 1580.1,344.61 1580.5,346.89 1580.8,349.17 1581.1,351.46 1581.4,353.74 1581.6,356.03 1581.8,358.33 1582.0,360.62 1582.2,362.92 1582.3,365.23 1582.4,367.53 1582.5,369.84 1582.5,372.15 1582.5,374.47 1582.4,376.79 1582.4,376.79 1581.4,374.64 1580.4,372.50 1579.4,370.37 1578.4,368.25 1577.3,366.14 1576.3,364.04 1575.2,361.95 1574.1,359.88 1573.0,357.81 1571.8,355.75 1570.7,353.71 1569.5,351.67 1568.4,349.64 1567.2,347.62 1566.0,345.61 1564.7,343.62 1563.5,341.62 1562.2,339.64 1561.0,337.67 1559.7,335.71 1558.4,333.75 1557.1,331.80 1555.8,329.86 1554.4,327.93 1553.1,326.01 1551.7,324.10 1550.3,322.19 1548.9,320.29 1547.5,318.40 1546.1,316.51 1544.6,314.63 1543.2,312.76 1541.7,310.90 1540.3,309.04 1538.8,307.19 1537.3,305.35 1535.8,303.51 1534.2,301.68 1532.7,299.85 1531.1,298.03 1529.6,296.22 1528.0,294.42 1526.4,292.62 1524.8,290.83 1523.2,289.05 1521.5,287.28 1519.9,285.52 1518.2,283.77 1516.5,282.03 1514.9,280.31 1513.2,278.59 1511.4,276.89 1509.7,275.20 1508.0,273.52 1506.2,271.85 1504.4,270.20 1502.7,268.57 1500.9,266.95 1499.0,265.34 1497.2,263.75 1495.4,262.18 1493.5,260.62 1491.6,259.08 1489.7,257.56 1487.8,256.06 1485.9,254.58 1484.0,253.11 1482.0,251.67 1480.1,250.24 1478.1,248.84 1476.1,247.45 1474.1,246.08 1472.1,244.73 1470.1,243.40 1468.0,242.08 1466.0,240.78 1463.9,239.50 1461.8,238.24 1459.7,236.99 1457.6,235.76 1455.5,234.55 1453.4,233.35 1451.2,232.17 1449.1,231.00 1446.9,229.85 1444.7,228.71 1442.5,227.59 1440.3,226.48 1438.1,225.39 1435.9,224.31 1433.7,223.24 1431.5,222.19 1429.2,221.15 1427.0,220.13 1424.7,219.11 1422.5,218.11 1420.2,217.12 1417.9,216.14 1415.6,215.18 1413.3,214.22 1411.0,213.28 1408.7,212.35 1406.4,211.43 1404.1,210.52 1401.7,209.61 1399.4,208.72 1397.1,207.84 1394.7,206.97 1392.4,206.10 1390.0,205.25 1387.7,204.40 1385.3,203.57 1382.9,202.74 1380.6,201.92 1378.2,201.11 1375.8,200.31 1373.4,199.52 1371.1,198.74 1368.7,197.97 1366.3,197.22 1363.9,196.47 1361.5,195.74 1359.1,195.03 1356.7,194.33 1354.3,193.64 1351.9,192.97 1349.5,192.32 1347.1,191.68 1344.7,191.06 1342.2,190.45 1339.8,189.87 1337.4,189.30 1335.0,188.75 1332.6,188.22 1330.1,187.70 1327.7,187.19 1325.3,186.69 1322.9,186.21 1320.4,185.72 1318.0,185.25 1315.6,184.77 1313.1,184.30 1310.7,183.83 1308.3,183.35 1305.9,182.87 1303.4,182.38 1301.0,181.88 1298.6,181.37 1296.1,180.85 1293.7,180.32 1291.3,179.77 1288.8,179.21 1286.4,178.63 1284.0,178.05 1281.5,177.45 1279.1,176.84 1276.7,176.23 1274.2,175.60 1271.8,174.97 1269.4,174.34 1267.0,173.69 1264.5,173.04 1262.1,172.39 1259.7,171.74 1257.2,171.08 1254.8,170.42 1252.4,169.76 1249.9,169.10 1247.5,168.44 1245.1,167.79 1242.7,167.13 1240.2,166.48 1237.8,165.83 1235.4,165.19 1232.9,164.56 1230.5,163.93 1228.1,163.31 1225.6,162.69 1223.2,162.09 1220.7,161.50 1218.3,160.91 1215.9,160.34 1213.4,159.78 1211.0,159.22 1208.6,158.68 1206.1,158.14 1203.7,157.61 1201.2,157.10 1198.8,156.59 1196.3,156.08 1193.9,155.59 1191.5,155.10 1189.0,154.62 1186.6,154.15 1184.1,153.69 1181.7,153.23 1179.2,152.78 1176.8,152.33 1174.3,151.89 1171.9,151.45 1169.4,151.02 1166.9,150.60 1164.5,150.18 1162.0,149.77 1159.6,149.36 1157.1,148.96 1154.7,148.57 1152.2,148.18 1149.7,147.79 1147.3,147.41 1144.8,147.04 1142.3,146.68 1139.8,146.32 1137.4,145.96 1134.9,145.62 1132.4,145.28 1130.0,144.94 1127.5,144.61 1125.0,144.29 1122.5,143.98 1120.0,143.67 1117.5,143.36 1115.1,143.07 1112.6,142.78 1110.1,142.49 1107.6,142.22 1105.1,141.95 1102.6,141.69 1100.1,141.43 1097.6,141.18 1095.1,140.94 1092.6,140.70 1090.1,140.48 1087.6,140.26 1085.1,140.04 1082.5,139.83 1080.0,139.64 1077.5,139.44 1075.0,139.26 1072.5,139.08 1069.9,138.91 1067.4,138.74 1064.9,138.58 1062.4,138.42 1059.8,138.26 1057.3,138.11 1054.8,137.95 1052.2,137.80 1049.7,137.64 1047.2,137.48 1044.7,137.32 1042.1,137.16 1039.6,136.99 1037.1,136.81 1034.6,136.63 1032.0,136.45 1029.5,136.25 1027.0,136.04 1024.5,135.83 1022.0,135.60 1019.5,135.36 1017.0,135.11 1014.5,134.85 1012.0,134.57 1009.5,134.28 1007.0,133.96 1004.6,133.64 1002.1,133.29 999.6,132.93 997.2,132.54 994.7,132.14 992.3,131.71 989.8,131.27 987.4,130.79 985.0,130.30 982.5,129.78 980.1,129.23 977.7,128.66 975.3,128.05 972.9,127.42 970.6,126.76 968.2,126.07 965.8,125.35 963.5,124.60 961.2,123.81 958.8,122.99 956.5,122.14 954.2,121.24 951.9,120.32 949.6,119.35 947.4,118.35 945.1,117.30 942.9,116.22 940.6,115.10 938.4,113.93 936.2,112.72 934.0,111.47" stroke="#ff00ff" stroke-width="8.25" clip-path="url(#cb)"/>
</g>
<g class="tl" text-anchor="end">
<text transform="translate(78.2 121.9) scale(1 1.035)">10</text>
<text transform="translate(78.2 261.3) scale(1 1.035)">0</text>
<text transform="translate(78.2 400.8) scale(1 1.035)">-10</text>
<text transform="translate(921.9 87.8) scale(1 1.035)">0.0</text>
<text transform="translate(921.9 197.9) scale(1 1.035)">-1.5</text>
<text transform="translate(921.9 308) scale(1 1.035)">-3.0</text>
<text transform="translate(921.9 418.1) scale(1 1.035)">-4.5</text>
</g>
<g class="tl" text-anchor="middle">
<text transform="translate(142.2 538.7) scale(1 1.035)">-0.2</text>
<text transform="translate(242.6 538.7) scale(1 1.035)">0.0</text>
<text transform="translate(342.6 538.7) scale(1 1.035)">0.2</text>
<text transform="translate(442.6 538.7) scale(1 1.035)">0.4</text>
<text transform="translate(542.6 538.7) scale(1 1.035)">0.6</text>
<text transform="translate(642.6 538.7) scale(1 1.035)">0.8</text>
<text transform="translate(742.6 538.7) scale(1 1.035)">1.0</text>
<text transform="translate(1044.1 538.7) scale(1 1.035)">0.2</text>
<text transform="translate(1151.4 538.7) scale(1 1.035)">0.4</text>
<text transform="translate(1258.7 538.7) scale(1 1.035)">0.6</text>
<text transform="translate(1366.0 538.7) scale(1 1.035)">0.8</text>
<text transform="translate(1473.3 538.7) scale(1 1.035)">1.0</text>
<text transform="translate(1580.6 538.7) scale(1 1.035)">1.2</text>
</g>
<g class="al" text-anchor="middle">
<text transform="translate(442.3 603.4) scale(1 1.035)">Potential / v (vs.SCE)</text>
<text transform="translate(1304.6 608.8) scale(1 1.035)">Potential / v (vs.SCE)</text>
<text transform="translate(29.3 256.7) rotate(-90) scale(1 1.035)" font-size="38.2">Current / <tspan class="mu">μ</tspan>A</text>
<text transform="translate(847.3 265.7) rotate(-90) scale(1 1.035)" font-size="38.2">Current / <tspan class="mu">μ</tspan>A</text>
</g>
<g class="pl" text-anchor="middle">
<text transform="translate(147 70.7) scale(1 1.035)">A</text>
<text transform="translate(988 67.2) scale(1 1.035)">B</text>
</g>
<g class="cl" text-anchor="middle">
<text transform="translate(407.7 45.8) scale(1 1.0)">c</text>
<text transform="translate(407.2 99.8) scale(1 1.0)">b</text>
<text transform="translate(413.5 171.8) scale(1 1.0)">a</text>
<text transform="translate(1271.5 172.6) scale(1 1.0)">a</text>
<text transform="translate(1217.5 211.2) scale(1 1.0)">b</text>
<text transform="translate(1166.2 233.8) scale(1 1.0)">c</text>
<text transform="translate(1175.8 306.5) scale(1 1.0)">d</text>
<text transform="translate(1167.2 414) scale(1 1.0)">e</text>
</g>
</svg>
</body>
</html>
